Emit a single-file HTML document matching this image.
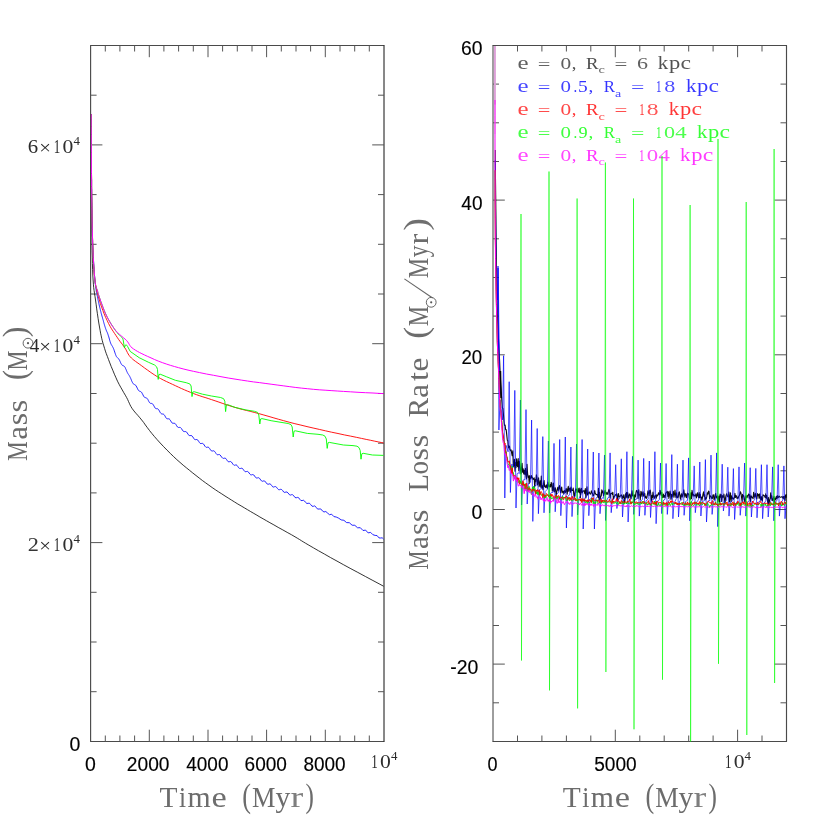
<!DOCTYPE html>
<html><head><meta charset="utf-8"><title>Mass and mass loss rate</title>
<style>html,body{margin:0;padding:0;background:#fff;}body{width:830px;height:830px;overflow:hidden;font-family:"Liberation Sans",sans-serif;}svg{display:block;}</style></head>
<body>
<svg width="830" height="830" viewBox="0 0 830 830" style="will-change:transform">
<rect width="830" height="830" fill="#fff"/>
<clipPath id="cl"><rect x="90.6" y="45.5" width="294.4" height="696"/></clipPath>
<clipPath id="cr"><rect x="493" y="45.5" width="294.5" height="696"/></clipPath>
<g id="axes"><line x1="90.1" y1="45.5" x2="384.5" y2="45.5" stroke="#4a4a4a" stroke-width="1.15" stroke-opacity="1.0"/><line x1="90.1" y1="741.5" x2="384.5" y2="741.5" stroke="#4a4a4a" stroke-width="1.15" stroke-opacity="1.0"/><line x1="90.6" y1="45.5" x2="90.6" y2="741.5" stroke="#4a4a4a" stroke-width="1.15" stroke-opacity="1.0"/><line x1="384" y1="45.5" x2="384" y2="741.5" stroke="#111" stroke-width="1.0" stroke-opacity="1.0"/><line x1="105.3" y1="45.5" x2="105.3" y2="51.5" stroke="#555" stroke-width="1.0" stroke-opacity="1.0"/><line x1="105.3" y1="741.5" x2="105.3" y2="735.5" stroke="#555" stroke-width="1.0" stroke-opacity="1.0"/><line x1="119.9" y1="45.5" x2="119.9" y2="51.5" stroke="#555" stroke-width="1.0" stroke-opacity="1.0"/><line x1="119.9" y1="741.5" x2="119.9" y2="735.5" stroke="#555" stroke-width="1.0" stroke-opacity="1.0"/><line x1="134.6" y1="45.5" x2="134.6" y2="51.5" stroke="#555" stroke-width="1.0" stroke-opacity="1.0"/><line x1="134.6" y1="741.5" x2="134.6" y2="735.5" stroke="#555" stroke-width="1.0" stroke-opacity="1.0"/><line x1="149.3" y1="45.5" x2="149.3" y2="57.2" stroke="#555" stroke-width="1.0" stroke-opacity="1.0"/><line x1="149.3" y1="741.5" x2="149.3" y2="729.7" stroke="#555" stroke-width="1.0" stroke-opacity="1.0"/><line x1="163.9" y1="45.5" x2="163.9" y2="51.5" stroke="#555" stroke-width="1.0" stroke-opacity="1.0"/><line x1="163.9" y1="741.5" x2="163.9" y2="735.5" stroke="#555" stroke-width="1.0" stroke-opacity="1.0"/><line x1="178.6" y1="45.5" x2="178.6" y2="51.5" stroke="#555" stroke-width="1.0" stroke-opacity="1.0"/><line x1="178.6" y1="741.5" x2="178.6" y2="735.5" stroke="#555" stroke-width="1.0" stroke-opacity="1.0"/><line x1="193.3" y1="45.5" x2="193.3" y2="51.5" stroke="#555" stroke-width="1.0" stroke-opacity="1.0"/><line x1="193.3" y1="741.5" x2="193.3" y2="735.5" stroke="#555" stroke-width="1.0" stroke-opacity="1.0"/><line x1="208" y1="45.5" x2="208" y2="57.2" stroke="#555" stroke-width="1.0" stroke-opacity="1.0"/><line x1="208" y1="741.5" x2="208" y2="729.7" stroke="#555" stroke-width="1.0" stroke-opacity="1.0"/><line x1="222.6" y1="45.5" x2="222.6" y2="51.5" stroke="#555" stroke-width="1.0" stroke-opacity="1.0"/><line x1="222.6" y1="741.5" x2="222.6" y2="735.5" stroke="#555" stroke-width="1.0" stroke-opacity="1.0"/><line x1="237.3" y1="45.5" x2="237.3" y2="51.5" stroke="#555" stroke-width="1.0" stroke-opacity="1.0"/><line x1="237.3" y1="741.5" x2="237.3" y2="735.5" stroke="#555" stroke-width="1.0" stroke-opacity="1.0"/><line x1="252" y1="45.5" x2="252" y2="51.5" stroke="#555" stroke-width="1.0" stroke-opacity="1.0"/><line x1="252" y1="741.5" x2="252" y2="735.5" stroke="#555" stroke-width="1.0" stroke-opacity="1.0"/><line x1="266.6" y1="45.5" x2="266.6" y2="57.2" stroke="#555" stroke-width="1.0" stroke-opacity="1.0"/><line x1="266.6" y1="741.5" x2="266.6" y2="729.7" stroke="#555" stroke-width="1.0" stroke-opacity="1.0"/><line x1="281.3" y1="45.5" x2="281.3" y2="51.5" stroke="#555" stroke-width="1.0" stroke-opacity="1.0"/><line x1="281.3" y1="741.5" x2="281.3" y2="735.5" stroke="#555" stroke-width="1.0" stroke-opacity="1.0"/><line x1="296" y1="45.5" x2="296" y2="51.5" stroke="#555" stroke-width="1.0" stroke-opacity="1.0"/><line x1="296" y1="741.5" x2="296" y2="735.5" stroke="#555" stroke-width="1.0" stroke-opacity="1.0"/><line x1="310.6" y1="45.5" x2="310.6" y2="51.5" stroke="#555" stroke-width="1.0" stroke-opacity="1.0"/><line x1="310.6" y1="741.5" x2="310.6" y2="735.5" stroke="#555" stroke-width="1.0" stroke-opacity="1.0"/><line x1="325.3" y1="45.5" x2="325.3" y2="57.2" stroke="#555" stroke-width="1.0" stroke-opacity="1.0"/><line x1="325.3" y1="741.5" x2="325.3" y2="729.7" stroke="#555" stroke-width="1.0" stroke-opacity="1.0"/><line x1="340" y1="45.5" x2="340" y2="51.5" stroke="#555" stroke-width="1.0" stroke-opacity="1.0"/><line x1="340" y1="741.5" x2="340" y2="735.5" stroke="#555" stroke-width="1.0" stroke-opacity="1.0"/><line x1="354.7" y1="45.5" x2="354.7" y2="51.5" stroke="#555" stroke-width="1.0" stroke-opacity="1.0"/><line x1="354.7" y1="741.5" x2="354.7" y2="735.5" stroke="#555" stroke-width="1.0" stroke-opacity="1.0"/><line x1="369.3" y1="45.5" x2="369.3" y2="51.5" stroke="#555" stroke-width="1.0" stroke-opacity="1.0"/><line x1="369.3" y1="741.5" x2="369.3" y2="735.5" stroke="#555" stroke-width="1.0" stroke-opacity="1.0"/><line x1="90.6" y1="691.7" x2="96.6" y2="691.7" stroke="#555" stroke-width="1.0" stroke-opacity="1.0"/><line x1="384" y1="691.7" x2="378" y2="691.7" stroke="#555" stroke-width="1.0" stroke-opacity="1.0"/><line x1="90.6" y1="642" x2="96.6" y2="642" stroke="#555" stroke-width="1.0" stroke-opacity="1.0"/><line x1="384" y1="642" x2="378" y2="642" stroke="#555" stroke-width="1.0" stroke-opacity="1.0"/><line x1="90.6" y1="592.3" x2="96.6" y2="592.3" stroke="#555" stroke-width="1.0" stroke-opacity="1.0"/><line x1="384" y1="592.3" x2="378" y2="592.3" stroke="#555" stroke-width="1.0" stroke-opacity="1.0"/><line x1="90.6" y1="542.6" x2="102.4" y2="542.6" stroke="#555" stroke-width="1.0" stroke-opacity="1.0"/><line x1="384" y1="542.6" x2="372.2" y2="542.6" stroke="#555" stroke-width="1.0" stroke-opacity="1.0"/><line x1="90.6" y1="492.9" x2="96.6" y2="492.9" stroke="#555" stroke-width="1.0" stroke-opacity="1.0"/><line x1="384" y1="492.9" x2="378" y2="492.9" stroke="#555" stroke-width="1.0" stroke-opacity="1.0"/><line x1="90.6" y1="443.2" x2="96.6" y2="443.2" stroke="#555" stroke-width="1.0" stroke-opacity="1.0"/><line x1="384" y1="443.2" x2="378" y2="443.2" stroke="#555" stroke-width="1.0" stroke-opacity="1.0"/><line x1="90.6" y1="393.5" x2="96.6" y2="393.5" stroke="#555" stroke-width="1.0" stroke-opacity="1.0"/><line x1="384" y1="393.5" x2="378" y2="393.5" stroke="#555" stroke-width="1.0" stroke-opacity="1.0"/><line x1="90.6" y1="343.7" x2="102.4" y2="343.7" stroke="#555" stroke-width="1.0" stroke-opacity="1.0"/><line x1="384" y1="343.7" x2="372.2" y2="343.7" stroke="#555" stroke-width="1.0" stroke-opacity="1.0"/><line x1="90.6" y1="294" x2="96.6" y2="294" stroke="#555" stroke-width="1.0" stroke-opacity="1.0"/><line x1="384" y1="294" x2="378" y2="294" stroke="#555" stroke-width="1.0" stroke-opacity="1.0"/><line x1="90.6" y1="244.3" x2="96.6" y2="244.3" stroke="#555" stroke-width="1.0" stroke-opacity="1.0"/><line x1="384" y1="244.3" x2="378" y2="244.3" stroke="#555" stroke-width="1.0" stroke-opacity="1.0"/><line x1="90.6" y1="194.6" x2="96.6" y2="194.6" stroke="#555" stroke-width="1.0" stroke-opacity="1.0"/><line x1="384" y1="194.6" x2="378" y2="194.6" stroke="#555" stroke-width="1.0" stroke-opacity="1.0"/><line x1="90.6" y1="144.9" x2="102.4" y2="144.9" stroke="#555" stroke-width="1.0" stroke-opacity="1.0"/><line x1="384" y1="144.9" x2="372.2" y2="144.9" stroke="#555" stroke-width="1.0" stroke-opacity="1.0"/><line x1="90.6" y1="95.2" x2="96.6" y2="95.2" stroke="#555" stroke-width="1.0" stroke-opacity="1.0"/><line x1="384" y1="95.2" x2="378" y2="95.2" stroke="#555" stroke-width="1.0" stroke-opacity="1.0"/><line x1="492.5" y1="45.5" x2="787" y2="45.5" stroke="#4a4a4a" stroke-width="1.15" stroke-opacity="1.0"/><line x1="492.5" y1="741.5" x2="787" y2="741.5" stroke="#4a4a4a" stroke-width="1.15" stroke-opacity="1.0"/><line x1="493" y1="45.5" x2="493" y2="741.5" stroke="#3c3c3c" stroke-width="1.0" stroke-opacity="1.0"/><line x1="786.5" y1="45.5" x2="786.5" y2="741.5" stroke="#4a4a4a" stroke-width="1.15" stroke-opacity="1.0"/><line x1="517.5" y1="45.5" x2="517.5" y2="51.5" stroke="#555" stroke-width="1.0" stroke-opacity="1.0"/><line x1="517.5" y1="741.5" x2="517.5" y2="735.5" stroke="#555" stroke-width="1.0" stroke-opacity="1.0"/><line x1="541.9" y1="45.5" x2="541.9" y2="51.5" stroke="#555" stroke-width="1.0" stroke-opacity="1.0"/><line x1="541.9" y1="741.5" x2="541.9" y2="735.5" stroke="#555" stroke-width="1.0" stroke-opacity="1.0"/><line x1="566.4" y1="45.5" x2="566.4" y2="51.5" stroke="#555" stroke-width="1.0" stroke-opacity="1.0"/><line x1="566.4" y1="741.5" x2="566.4" y2="735.5" stroke="#555" stroke-width="1.0" stroke-opacity="1.0"/><line x1="590.8" y1="45.5" x2="590.8" y2="51.5" stroke="#555" stroke-width="1.0" stroke-opacity="1.0"/><line x1="590.8" y1="741.5" x2="590.8" y2="735.5" stroke="#555" stroke-width="1.0" stroke-opacity="1.0"/><line x1="615.3" y1="45.5" x2="615.3" y2="57.2" stroke="#555" stroke-width="1.0" stroke-opacity="1.0"/><line x1="615.3" y1="741.5" x2="615.3" y2="729.7" stroke="#555" stroke-width="1.0" stroke-opacity="1.0"/><line x1="639.8" y1="45.5" x2="639.8" y2="51.5" stroke="#555" stroke-width="1.0" stroke-opacity="1.0"/><line x1="639.8" y1="741.5" x2="639.8" y2="735.5" stroke="#555" stroke-width="1.0" stroke-opacity="1.0"/><line x1="664.2" y1="45.5" x2="664.2" y2="51.5" stroke="#555" stroke-width="1.0" stroke-opacity="1.0"/><line x1="664.2" y1="741.5" x2="664.2" y2="735.5" stroke="#555" stroke-width="1.0" stroke-opacity="1.0"/><line x1="688.7" y1="45.5" x2="688.7" y2="51.5" stroke="#555" stroke-width="1.0" stroke-opacity="1.0"/><line x1="688.7" y1="741.5" x2="688.7" y2="735.5" stroke="#555" stroke-width="1.0" stroke-opacity="1.0"/><line x1="713.1" y1="45.5" x2="713.1" y2="51.5" stroke="#555" stroke-width="1.0" stroke-opacity="1.0"/><line x1="713.1" y1="741.5" x2="713.1" y2="735.5" stroke="#555" stroke-width="1.0" stroke-opacity="1.0"/><line x1="737.6" y1="45.5" x2="737.6" y2="57.2" stroke="#555" stroke-width="1.0" stroke-opacity="1.0"/><line x1="737.6" y1="741.5" x2="737.6" y2="729.7" stroke="#555" stroke-width="1.0" stroke-opacity="1.0"/><line x1="762" y1="45.5" x2="762" y2="51.5" stroke="#555" stroke-width="1.0" stroke-opacity="1.0"/><line x1="762" y1="741.5" x2="762" y2="735.5" stroke="#555" stroke-width="1.0" stroke-opacity="1.0"/><line x1="493" y1="702.8" x2="499" y2="702.8" stroke="#555" stroke-width="1.0" stroke-opacity="1.0"/><line x1="786.5" y1="702.8" x2="780.5" y2="702.8" stroke="#555" stroke-width="1.0" stroke-opacity="1.0"/><line x1="493" y1="664.1" x2="504.8" y2="664.1" stroke="#555" stroke-width="1.0" stroke-opacity="1.0"/><line x1="786.5" y1="664.1" x2="774.7" y2="664.1" stroke="#555" stroke-width="1.0" stroke-opacity="1.0"/><line x1="493" y1="625.5" x2="499" y2="625.5" stroke="#555" stroke-width="1.0" stroke-opacity="1.0"/><line x1="786.5" y1="625.5" x2="780.5" y2="625.5" stroke="#555" stroke-width="1.0" stroke-opacity="1.0"/><line x1="493" y1="586.8" x2="499" y2="586.8" stroke="#555" stroke-width="1.0" stroke-opacity="1.0"/><line x1="786.5" y1="586.8" x2="780.5" y2="586.8" stroke="#555" stroke-width="1.0" stroke-opacity="1.0"/><line x1="493" y1="548.1" x2="499" y2="548.1" stroke="#555" stroke-width="1.0" stroke-opacity="1.0"/><line x1="786.5" y1="548.1" x2="780.5" y2="548.1" stroke="#555" stroke-width="1.0" stroke-opacity="1.0"/><line x1="493" y1="509.5" x2="504.8" y2="509.5" stroke="#555" stroke-width="1.0" stroke-opacity="1.0"/><line x1="786.5" y1="509.5" x2="774.7" y2="509.5" stroke="#555" stroke-width="1.0" stroke-opacity="1.0"/><line x1="493" y1="470.8" x2="499" y2="470.8" stroke="#555" stroke-width="1.0" stroke-opacity="1.0"/><line x1="786.5" y1="470.8" x2="780.5" y2="470.8" stroke="#555" stroke-width="1.0" stroke-opacity="1.0"/><line x1="493" y1="432.1" x2="499" y2="432.1" stroke="#555" stroke-width="1.0" stroke-opacity="1.0"/><line x1="786.5" y1="432.1" x2="780.5" y2="432.1" stroke="#555" stroke-width="1.0" stroke-opacity="1.0"/><line x1="493" y1="393.5" x2="499" y2="393.5" stroke="#555" stroke-width="1.0" stroke-opacity="1.0"/><line x1="786.5" y1="393.5" x2="780.5" y2="393.5" stroke="#555" stroke-width="1.0" stroke-opacity="1.0"/><line x1="493" y1="354.8" x2="504.8" y2="354.8" stroke="#555" stroke-width="1.0" stroke-opacity="1.0"/><line x1="786.5" y1="354.8" x2="774.7" y2="354.8" stroke="#555" stroke-width="1.0" stroke-opacity="1.0"/><line x1="493" y1="316.1" x2="499" y2="316.1" stroke="#555" stroke-width="1.0" stroke-opacity="1.0"/><line x1="786.5" y1="316.1" x2="780.5" y2="316.1" stroke="#555" stroke-width="1.0" stroke-opacity="1.0"/><line x1="493" y1="277.5" x2="499" y2="277.5" stroke="#555" stroke-width="1.0" stroke-opacity="1.0"/><line x1="786.5" y1="277.5" x2="780.5" y2="277.5" stroke="#555" stroke-width="1.0" stroke-opacity="1.0"/><line x1="493" y1="238.8" x2="499" y2="238.8" stroke="#555" stroke-width="1.0" stroke-opacity="1.0"/><line x1="786.5" y1="238.8" x2="780.5" y2="238.8" stroke="#555" stroke-width="1.0" stroke-opacity="1.0"/><line x1="493" y1="200.1" x2="504.8" y2="200.1" stroke="#555" stroke-width="1.0" stroke-opacity="1.0"/><line x1="786.5" y1="200.1" x2="774.7" y2="200.1" stroke="#555" stroke-width="1.0" stroke-opacity="1.0"/><line x1="493" y1="161.5" x2="499" y2="161.5" stroke="#555" stroke-width="1.0" stroke-opacity="1.0"/><line x1="786.5" y1="161.5" x2="780.5" y2="161.5" stroke="#555" stroke-width="1.0" stroke-opacity="1.0"/><line x1="493" y1="122.8" x2="499" y2="122.8" stroke="#555" stroke-width="1.0" stroke-opacity="1.0"/><line x1="786.5" y1="122.8" x2="780.5" y2="122.8" stroke="#555" stroke-width="1.0" stroke-opacity="1.0"/><line x1="493" y1="84.1" x2="499" y2="84.1" stroke="#555" stroke-width="1.0" stroke-opacity="1.0"/><line x1="786.5" y1="84.1" x2="780.5" y2="84.1" stroke="#555" stroke-width="1.0" stroke-opacity="1.0"/></g>
<g id="legend" opacity="0.8"><text transform="matrix(1.2842 0 0 1 517.4 68.5)" font-size="19.4" font-family="'Liberation Serif',serif" fill="#222222" fill-opacity="0.90">e</text><text transform="matrix(1.3003 0 0 1 537.8 69.7)" font-size="17.2" font-family="'Liberation Serif',serif" fill="#222222" fill-opacity="0.88">=</text><text transform="matrix(1.2601 0 0 1 560.5 68.5)" font-size="17" font-family="'Liberation Serif',serif" fill="#222222" fill-opacity="0.91">0</text><text transform="matrix(1.0853 0 0 1 571.8 68.5)" font-size="17.2" font-family="'Liberation Serif',serif" fill="#222222">,</text><text transform="matrix(1.1159 0 0 1 586 68.5)" font-size="16.8" font-family="'Liberation Serif',serif" fill="#222222">R</text><text transform="matrix(1.3253 0 0 1 614.5 69.7)" font-size="17.2" font-family="'Liberation Serif',serif" fill="#222222" fill-opacity="0.87">=</text><text transform="matrix(1.2891 0 0 1 637 68.5)" font-size="17.1" font-family="'Liberation Serif',serif" fill="#222222" fill-opacity="0.89">6</text><text transform="matrix(1.1677 0 0 1 657.8 68.5)" font-size="17.8" font-family="'Liberation Serif',serif" fill="#222222" fill-opacity="0.98">k</text><text transform="matrix(1.1606 0 0 1 668.9 68.5)" font-size="19.4" font-family="'Liberation Serif',serif" fill="#222222" fill-opacity="0.99">p</text><text transform="matrix(1.2258 0 0 1 680.4 68.5)" font-size="19.4" font-family="'Liberation Serif',serif" fill="#222222" fill-opacity="0.94">c</text><text transform="matrix(1.3015 0 0 1 598.4 73.4)" font-size="11.1" font-family="'Liberation Serif',serif" fill="#222222" fill-opacity="0.88">c</text><text transform="matrix(1.2842 0 0 1 517.4 91.9)" font-size="19.4" font-family="'Liberation Serif',serif" fill="#0000ff" fill-opacity="0.90">e</text><text transform="matrix(1.3003 0 0 1 537.8 93.1)" font-size="17.2" font-family="'Liberation Serif',serif" fill="#0000ff" fill-opacity="0.88">=</text><text transform="matrix(1.2324 0 0 1 560.5 91.9)" font-size="17" font-family="'Liberation Serif',serif" fill="#0000ff" fill-opacity="0.93">0</text><text transform="matrix(0.8721 0 0 1 573.6 91.9)" font-size="17.2" font-family="'Liberation Serif',serif" fill="#0000ff">.</text><text transform="matrix(1.1233 0 0 1 578 91.9)" font-size="17.3" font-family="'Liberation Serif',serif" fill="#0000ff">5</text><text transform="matrix(1.1240 0 0 1 588.5 91.9)" font-size="17.2" font-family="'Liberation Serif',serif" fill="#0000ff">,</text><text transform="matrix(1.0034 0 0 1 603.8 91.9)" font-size="16.8" font-family="'Liberation Serif',serif" fill="#0000ff">R</text><text transform="matrix(1.3753 0 0 1 631 93.1)" font-size="17.2" font-family="'Liberation Serif',serif" fill="#0000ff" fill-opacity="0.84">=</text><text transform="matrix(0.6462 0 0 1 656 91.9)" font-size="17.1" font-family="'Liberation Serif',serif" fill="#0000ff">1</text><text transform="matrix(1.3016 0 0 1 664.3 91.9)" font-size="17" font-family="'Liberation Serif',serif" fill="#0000ff" fill-opacity="0.88">8</text><text transform="matrix(1.1677 0 0 1 685.9 91.9)" font-size="17.8" font-family="'Liberation Serif',serif" fill="#0000ff" fill-opacity="0.98">k</text><text transform="matrix(1.1606 0 0 1 697 91.9)" font-size="19.4" font-family="'Liberation Serif',serif" fill="#0000ff" fill-opacity="0.99">p</text><text transform="matrix(1.2258 0 0 1 708.5 91.9)" font-size="19.4" font-family="'Liberation Serif',serif" fill="#0000ff" fill-opacity="0.94">c</text><text transform="matrix(1.2585 0 0 1 615 96.8)" font-size="11.1" font-family="'Liberation Serif',serif" fill="#0000ff" fill-opacity="0.91">a</text><text transform="matrix(1.2842 0 0 1 517.4 114.9)" font-size="19.4" font-family="'Liberation Serif',serif" fill="#ff0000" fill-opacity="0.90">e</text><text transform="matrix(1.3003 0 0 1 537.8 116.1)" font-size="17.2" font-family="'Liberation Serif',serif" fill="#ff0000" fill-opacity="0.88">=</text><text transform="matrix(1.2601 0 0 1 560.5 114.9)" font-size="17" font-family="'Liberation Serif',serif" fill="#ff0000" fill-opacity="0.91">0</text><text transform="matrix(1.0853 0 0 1 571.8 114.9)" font-size="17.2" font-family="'Liberation Serif',serif" fill="#ff0000">,</text><text transform="matrix(1.1159 0 0 1 586 114.9)" font-size="16.8" font-family="'Liberation Serif',serif" fill="#ff0000">R</text><text transform="matrix(1.3253 0 0 1 614.5 116.1)" font-size="17.2" font-family="'Liberation Serif',serif" fill="#ff0000" fill-opacity="0.87">=</text><text transform="matrix(0.6296 0 0 1 639.2 114.9)" font-size="17.1" font-family="'Liberation Serif',serif" fill="#ff0000">1</text><text transform="matrix(1.3847 0 0 1 646.7 114.9)" font-size="17" font-family="'Liberation Serif',serif" fill="#ff0000" fill-opacity="0.83">8</text><text transform="matrix(1.1677 0 0 1 668.8 114.9)" font-size="17.8" font-family="'Liberation Serif',serif" fill="#ff0000" fill-opacity="0.98">k</text><text transform="matrix(1.1606 0 0 1 679.9 114.9)" font-size="19.4" font-family="'Liberation Serif',serif" fill="#ff0000" fill-opacity="0.99">p</text><text transform="matrix(1.2258 0 0 1 691.4 114.9)" font-size="19.4" font-family="'Liberation Serif',serif" fill="#ff0000" fill-opacity="0.94">c</text><text transform="matrix(1.3015 0 0 1 598.4 119.8)" font-size="11.1" font-family="'Liberation Serif',serif" fill="#ff0000" fill-opacity="0.88">c</text><text transform="matrix(1.2842 0 0 1 517.4 137.6)" font-size="19.4" font-family="'Liberation Serif',serif" fill="#00ff00" fill-opacity="0.90">e</text><text transform="matrix(1.3003 0 0 1 537.8 138.8)" font-size="17.2" font-family="'Liberation Serif',serif" fill="#00ff00" fill-opacity="0.88">=</text><text transform="matrix(1.2324 0 0 1 560.5 137.6)" font-size="17" font-family="'Liberation Serif',serif" fill="#00ff00" fill-opacity="0.93">0</text><text transform="matrix(0.8721 0 0 1 573.6 137.6)" font-size="17.2" font-family="'Liberation Serif',serif" fill="#00ff00">.</text><text transform="matrix(1.0697 0 0 1 578.5 137.6)" font-size="17.1" font-family="'Liberation Serif',serif" fill="#00ff00">9</text><text transform="matrix(1.1240 0 0 1 588.5 137.6)" font-size="17.2" font-family="'Liberation Serif',serif" fill="#00ff00">,</text><text transform="matrix(1.0034 0 0 1 603.8 137.6)" font-size="16.8" font-family="'Liberation Serif',serif" fill="#00ff00">R</text><text transform="matrix(1.3753 0 0 1 631 138.8)" font-size="17.2" font-family="'Liberation Serif',serif" fill="#00ff00" fill-opacity="0.84">=</text><text transform="matrix(0.6462 0 0 1 656 137.6)" font-size="17.1" font-family="'Liberation Serif',serif" fill="#00ff00">1</text><text transform="matrix(1.3016 0 0 1 664 137.6)" font-size="17" font-family="'Liberation Serif',serif" fill="#00ff00" fill-opacity="0.88">0</text><text transform="matrix(1.3264 0 0 1 675.3 137.6)" font-size="17.2" font-family="'Liberation Serif',serif" fill="#00ff00" fill-opacity="0.87">4</text><text transform="matrix(1.1677 0 0 1 697 137.6)" font-size="17.8" font-family="'Liberation Serif',serif" fill="#00ff00" fill-opacity="0.98">k</text><text transform="matrix(1.1606 0 0 1 708.1 137.6)" font-size="19.4" font-family="'Liberation Serif',serif" fill="#00ff00" fill-opacity="0.99">p</text><text transform="matrix(1.2258 0 0 1 719.6 137.6)" font-size="19.4" font-family="'Liberation Serif',serif" fill="#00ff00" fill-opacity="0.94">c</text><text transform="matrix(1.2585 0 0 1 615 142.5)" font-size="11.1" font-family="'Liberation Serif',serif" fill="#00ff00" fill-opacity="0.91">a</text><text transform="matrix(1.2842 0 0 1 517.4 160.5)" font-size="19.4" font-family="'Liberation Serif',serif" fill="#ff00ff" fill-opacity="0.90">e</text><text transform="matrix(1.3003 0 0 1 537.8 161.7)" font-size="17.2" font-family="'Liberation Serif',serif" fill="#ff00ff" fill-opacity="0.88">=</text><text transform="matrix(1.2601 0 0 1 560.5 160.5)" font-size="17" font-family="'Liberation Serif',serif" fill="#ff00ff" fill-opacity="0.91">0</text><text transform="matrix(1.0853 0 0 1 571.8 160.5)" font-size="17.2" font-family="'Liberation Serif',serif" fill="#ff00ff">,</text><text transform="matrix(1.1159 0 0 1 586 160.5)" font-size="16.8" font-family="'Liberation Serif',serif" fill="#ff00ff">R</text><text transform="matrix(1.3253 0 0 1 614.5 161.7)" font-size="17.2" font-family="'Liberation Serif',serif" fill="#ff00ff" fill-opacity="0.87">=</text><text transform="matrix(0.6462 0 0 1 639.1 160.5)" font-size="17.1" font-family="'Liberation Serif',serif" fill="#ff00ff">1</text><text transform="matrix(1.3432 0 0 1 646.7 160.5)" font-size="17" font-family="'Liberation Serif',serif" fill="#ff00ff" fill-opacity="0.86">0</text><text transform="matrix(1.3264 0 0 1 658.4 160.5)" font-size="17.2" font-family="'Liberation Serif',serif" fill="#ff00ff" fill-opacity="0.87">4</text><text transform="matrix(1.1677 0 0 1 680.1 160.5)" font-size="17.8" font-family="'Liberation Serif',serif" fill="#ff00ff" fill-opacity="0.98">k</text><text transform="matrix(1.1606 0 0 1 691.2 160.5)" font-size="19.4" font-family="'Liberation Serif',serif" fill="#ff00ff" fill-opacity="0.99">p</text><text transform="matrix(1.2258 0 0 1 702.7 160.5)" font-size="19.4" font-family="'Liberation Serif',serif" fill="#ff00ff" fill-opacity="0.94">c</text><text transform="matrix(1.3015 0 0 1 598.4 165.4)" font-size="11.1" font-family="'Liberation Serif',serif" fill="#ff00ff" fill-opacity="0.88">c</text></g>
<g id="left" clip-path="url(#cl)"><path d="M91 114.2 L91 119.2 L91 126.3 L91 134.6 L91 143.5 L91.1 152.2 L91.1 160 L91.1 167 L91.2 173.6 L91.2 180.1 L91.3 186.6 L91.3 193.2 L91.4 200 L91.5 207.2 L91.6 214.7 L91.7 222.2 L91.8 229.8 L91.9 237.1 L92 244 L92.1 250.6 L92.3 257.2 L92.4 263.5 L92.6 269.5 L92.8 275 L93.1 280 L93.4 284.2 L93.7 287.6 L94.1 290.6 L94.5 293.4 L95 296.4 L95.5 300 L96.1 304.2 L96.7 308.9 L97.4 313.7 L98.1 318.5 L98.8 323 L99.5 327 L100.1 330.3 L100.6 333.2 L101.2 335.8 L101.7 338.3 L102.3 340.7 L103 343.3 L103.8 345.9 L104.6 348.5 L105.4 351.1 L106.3 353.7 L107.4 356.5 L108.5 359.5 L109.8 362.9 L111.2 366.5 L112.8 370.3 L114.4 374.2 L116 377.8 L117.5 381.2 L119.1 384.3 L120.7 387.2 L122.3 390 L123.8 392.7 L125.3 395.2 L126.6 397.5 L127.7 399.6 L128.5 401.5 L129.3 403.2 L130 404.8 L130.9 406.5 L132 408.3 L133.3 410.1 L134.8 412 L136.4 413.8 L138.1 415.7 L139.9 417.8 L141.7 420 L143.6 422.4 L145.4 425 L147.4 427.7 L149.5 430.5 L151.8 433.4 L154.3 436.4 L157.1 439.6 L160.2 443 L163.5 446.5 L166.9 450 L170.3 453.4 L173.6 456.6 L176.8 459.6 L180 462.4 L183.2 465.2 L186.4 467.8 L189.6 470.4 L192.8 473 L196 475.5 L199.2 478 L202.4 480.5 L205.7 482.9 L208.9 485.2 L212.1 487.5 L215.3 489.7 L218.5 491.8 L221.8 493.9 L225 496 L228.2 498 L231.4 500 L234.6 502 L237.8 504 L241.1 505.9 L244.3 507.8 L247.5 509.7 L250.7 511.6 L253.8 513.4 L256.9 515.2 L259.9 517 L263.1 518.8 L266.4 520.7 L269.9 522.7 L273.9 524.9 L278.2 527.4 L282.8 529.9 L287.2 532.4 L291.4 534.7 L295 536.8 L297.7 538.4 L299.7 539.6 L301.4 540.7 L303.2 541.8 L305.5 543.2 L308.9 545.2 L313.4 547.8 L318.6 550.8 L324.5 554.1 L330.6 557.6 L337 561.1 L343.3 564.6 L350.1 568.3 L357.8 572.4 L365.6 576.6 L372.9 580.5 L379.1 583.8 L383.5 586.2" fill="none" stroke="#000" stroke-width="1.0" stroke-opacity="0.8" stroke-linejoin="round" /><path d="M91.2 114.2 L91.2 115.2 L91.2 116.4 L91.2 117.8 L91.2 119.2 L91.2 120.9 L91.2 122.6 L91.2 124.4 L91.2 126.3 L91.3 128.3 L91.3 130.3 L91.3 132.4 L91.3 134.6 L91.3 136.8 L91.3 139 L91.3 141.2 L91.3 143.5 L91.3 145.7 L91.3 147.9 L91.3 150.1 L91.4 152.2 L91.4 154.2 L91.4 156.2 L91.4 158.2 L91.4 160 L91.4 161.8 L91.4 163.5 L91.4 165.3 L91.4 167 L91.5 168.6 L91.5 170.3 L91.5 172 L91.5 173.6 L91.5 175.2 L91.5 176.9 L91.5 178.5 L91.6 180.1 L91.6 181.7 L91.6 183.3 L91.6 185 L91.6 186.6 L91.6 188.2 L91.7 189.9 L91.7 191.5 L91.7 193.2 L91.7 194.8 L91.7 196.5 L91.8 198.3 L91.8 200 L91.8 201.8 L91.9 203.6 L91.9 205.4 L91.9 207.2 L91.9 209 L92 210.9 L92 212.8 L92 214.7 L92 216.6 L92.1 218.5 L92.1 220.4 L92.1 222.2 L92.2 224.1 L92.2 226 L92.2 227.9 L92.3 229.8 L92.3 231.6 L92.4 233.5 L92.4 235.3 L92.5 237.1 L92.5 238.9 L92.6 240.6 L92.6 242.3 L92.7 244 L92.8 245.7 L92.8 247.3 L92.9 249 L93 250.7 L93.1 252.3 L93.1 254 L93.2 255.6 L93.3 257.3 L93.4 258.9 L93.5 260.5 L93.6 262.1 L93.7 263.6 L93.8 265.2 L93.9 266.7 L94 268.2 L94.1 269.6 L94.2 271.1 L94.3 272.5 L94.4 273.8 L94.5 275.1 L94.6 276.4 L94.7 277.7 L94.8 278.9 L94.9 280 L95 281.1 L95.1 282.1 L95.2 283.1 L95.3 284 L95.4 284.9 L95.5 285.7 L95.6 286.5 L95.7 287.2 L95.8 287.9 L95.9 288.6 L96 289.2 L96.1 289.9 L96.2 290.5 L96.3 291.1 L96.4 291.8 L96.6 292.4 L96.7 293 L96.8 293.7 L96.9 294.3 L97.1 295 L97.2 295.7 L97.4 296.4 L97.5 297.2 L97.7 298 L97.9 298.8 L98 299.7 L98.2 300.5 L98.4 301.4 L98.6 302.3 L98.8 303.2 L99 304.1 L99.2 305 L99.4 305.9 L99.6 306.8 L99.8 307.7 L100.1 308.7 L100.3 309.6 L100.5 310.6 L100.8 311.5 L101 312.4 L101.2 313.3 L101.5 314.2 L101.7 315.1 L102 316 L102.2 316.9 L102.5 317.8 L102.7 318.7 L103 319.6 L103.3 320.6 L103.5 321.6 L103.8 322.6 L104.1 323.7 L104.4 324.7 L104.7 325.7 L105 326.7 L105.3 327.6 L105.6 328.5 L105.9 329.3 L106.2 330.1 L106.5 330.9 L106.8 331.6 L107.2 332.3 L107.5 333.1 L107.8 333.9 L108.1 334.8 L108.4 335.8 L108.8 336.9 L109.1 338 L109.4 339.1 L109.7 340.2 L110 341.3 L110.3 342.2 L110.6 343 L110.9 343.8 L111.2 344.4 L111.5 344.9 L111.8 345.4 L112.1 345.9 L112.4 346.3 L112.6 346.8 L112.9 347.3 L113.2 347.9 L113.5 348.6 L113.8 349.3 L114.1 350.2 L114.4 351 L114.7 352 L115 352.9 L115.3 353.8 L115.6 354.6 L115.9 355.4 L116.2 356.1 L116.5 356.7 L116.8 357.1 L117.2 357.5 L117.5 357.8 L117.8 358.1 L118.2 358.4 L118.6 358.7 L118.9 359.2 L119.3 359.8 L119.7 360.6 L120.1 361.5 L120.5 362.4 L120.9 363.3 L121.3 364.1 L121.8 364.7 L122.2 365.2 L122.6 365.5 L123 365.6 L123.4 365.8 L123.8 365.9 L124.2 366.2 L124.5 366.6 L124.9 367.1 L125.3 367.8 L125.6 368.6 L126 369.4 L126.3 370.2 L126.6 370.9 L126.9 371.6 L127.2 372.2 L127.4 372.7 L127.6 373.1 L127.8 373.4 L128 373.8 L128.2 374.1 L128.4 374.3 L128.6 374.6 L128.7 374.9 L128.9 375.1 L129.1 375.4 L129.3 375.6 L129.4 375.9 L129.6 376.2 L129.8 376.6 L130 376.9 L130.2 377.4 L130.5 377.9 L130.7 378.4 L131 379.1 L131.3 379.9 L131.6 380.7 L132 381.6 L132.4 382.4 L132.8 383.2 L133.2 383.7 L133.7 384.1 L134.2 384.4 L134.6 384.6 L135.1 384.8 L135.7 385.3 L136.2 386 L136.7 387 L137.3 388.2 L137.8 389.3 L138.4 390.3 L139 390.9 L139.6 391.2 L140.1 391.4 L140.7 391.6 L141.3 392 L141.8 392.7 L142.4 393.8 L143 394.9 L143.5 396 L144.1 396.8 L144.6 397.4 L145.1 397.6 L145.7 397.7 L146.2 397.8 L146.7 398.1 L147.2 398.6 L147.8 399.4 L148.3 400.4 L148.8 401.4 L149.3 402.3 L149.8 402.9 L150.4 403.3 L150.9 403.4 L151.4 403.4 L152 403.5 L152.5 403.8 L153 404.4 L153.5 405.2 L154.1 406.2 L154.6 407.2 L155.1 408 L155.7 408.5 L156.2 408.7 L156.8 408.7 L157.3 408.7 L157.8 408.9 L158.4 409.4 L158.9 410.1 L159.4 411 L159.9 411.9 L160.4 412.8 L160.9 413.4 L161.4 413.8 L161.9 413.9 L162.4 414 L162.9 414 L163.4 414.1 L163.9 414.5 L164.5 415.2 L165 416.1 L165.6 417.1 L166.1 418 L166.7 418.6 L167.3 418.8 L168 418.8 L168.6 418.8 L169.3 419 L170 419.7 L170.7 420.9 L171.5 422.2 L172.2 423.1 L173.1 423.3 L173.9 423.2 L174.8 423.3 L175.7 424.2 L176.6 425.7 L177.5 427 L178.5 427.5 L179.4 427.4 L180.4 427.5 L181.4 428.5 L182.4 430.1 L183.3 431.3 L184.3 431.6 L185.3 431.5 L186.3 431.8 L187.3 433 L188.2 434.6 L189.2 435.5 L190.1 435.6 L191 435.5 L191.9 435.8 L192.8 436.9 L193.7 438.3 L194.5 439.4 L195.3 439.7 L196.2 439.5 L197 439.5 L197.8 440.1 L198.6 441.2 L199.4 442.5 L200.2 443.4 L201 443.6 L201.8 443.4 L202.6 443.4 L203.4 443.9 L204.2 445 L205 446.3 L205.8 447.1 L206.6 447.4 L207.3 447.2 L208.1 447.1 L208.9 447.6 L209.7 448.6 L210.5 449.9 L211.3 450.8 L212.1 451.1 L212.9 450.9 L213.7 450.8 L214.5 451.3 L215.3 452.3 L216.1 453.6 L216.9 454.5 L217.7 454.8 L218.5 454.6 L219.3 454.5 L220.1 455 L220.9 456 L221.8 457.3 L222.6 458.1 L223.4 458.4 L224.2 458.2 L225 458.1 L225.8 458.5 L226.6 459.6 L227.4 460.8 L228.2 461.7 L229 461.9 L229.8 461.6 L230.6 461.5 L231.4 462 L232.2 463.1 L233 464.3 L233.8 465.1 L234.6 465.3 L235.4 465 L236.2 464.9 L237 465.4 L237.8 466.5 L238.6 467.7 L239.4 468.4 L240.3 468.5 L241.1 468.3 L241.9 468.2 L242.7 468.7 L243.5 469.8 L244.3 470.9 L245.1 471.7 L245.9 471.7 L246.7 471.5 L247.5 471.4 L248.3 471.9 L249.1 473 L249.9 474.1 L250.7 474.8 L251.5 474.9 L252.3 474.6 L253.1 474.6 L253.8 475 L254.6 476 L255.4 477.2 L256.1 477.9 L256.9 478.1 L257.6 477.9 L258.4 477.7 L259.2 478 L259.9 478.8 L260.7 480 L261.5 480.9 L262.3 481.3 L263.1 481.1 L263.9 480.8 L264.7 481 L265.5 481.9 L266.4 483.1 L267.2 484 L268.1 484.3 L269 484 L269.9 483.8 L270.8 484.4 L271.8 485.7 L272.7 486.8 L273.7 487.1 L274.6 486.7 L275.6 486.6 L276.6 487.3 L277.6 488.7 L278.6 489.7 L279.6 489.7 L280.6 489.3 L281.6 489.5 L282.7 490.6 L283.7 492 L284.8 492.5 L285.9 492 L287 492 L288.1 493 L289.2 494.5 L290.3 495.1 L291.5 494.7 L292.6 494.7 L293.8 495.9 L295 497.5 L296.2 497.8 L297.4 497.4 L298.6 497.7 L299.7 499.2 L300.9 500.5 L302.1 500.6 L303.3 500.2 L304.4 500.9 L305.7 502.5 L306.9 503.5 L308.1 503.3 L309.4 503.2 L310.7 504.6 L312 506.2 L313.3 506.3 L314.7 505.9 L316.2 507.3 L317.6 509.1 L319.2 509 L320.7 508.9 L322.4 510.9 L324 512 L325.8 511.5 L327.6 513.1 L329.5 514.7 L331.6 514.2 L333.9 516.6 L336.2 517 L338.7 518.2 L341.2 519.9 L343.9 520.3 L346.6 522.6 L349.3 522.7 L352.1 525.2 L354.8 525.3 L357.6 527.8 L360.3 527.7 L363 530.5 L365.6 530.1 L368.1 532.9 L370.6 532.4 L372.9 534.7 L375.1 535.4 L377.1 535.6 L379 537.9 L380.7 538 L382.2 537.8 L383.5 539.1" fill="none" stroke="#0000ff" stroke-width="1.0" stroke-opacity="0.85" stroke-linejoin="round" /><path d="M91.2 114.2 L91.2 119.2 L91.2 126.3 L91.3 134.6 L91.3 143.5 L91.4 152.2 L91.4 160 L91.4 167 L91.5 173.6 L91.6 180.1 L91.6 186.6 L91.7 193.2 L91.8 200 L91.9 207.2 L92 214.7 L92.1 222.2 L92.3 229.8 L92.5 237.1 L92.7 244 L93 250.6 L93.2 257.1 L93.5 263.3 L93.9 269.2 L94.3 274.8 L94.9 280 L95.6 284.7 L96.4 288.9 L97.3 292.8 L98.3 296.4 L99.3 299.9 L100.4 303.5 L101.6 307.1 L102.9 310.6 L104.2 314 L105.6 317.3 L107.1 320.4 L108.5 323.4 L110 326.2 L111.5 328.8 L113.1 331.2 L114.6 333.5 L116.1 335.7 L117.5 337.8 L118.8 339.7 L120.1 341.5 L121.4 343.1 L122.6 344.7 L123.7 346.2 L124.8 347.8 L125.8 349.4 L126.6 350.9 L127.4 352.5 L128.2 354 L129.1 355.4 L130.2 356.8 L131.4 358 L132.6 359.1 L133.9 360.2 L135.4 361.3 L137.1 362.5 L139.2 364 L141.7 365.8 L144.6 368 L147.7 370.2 L150.9 372.5 L154.2 374.7 L157.3 376.7 L160.3 378.4 L163.3 380 L166.4 381.5 L169.4 382.9 L172.4 384.3 L175.4 385.7 L178.4 387.1 L181.4 388.5 L184.4 389.8 L187.4 391.1 L190.4 392.3 L193.4 393.5 L196.3 394.6 L199.2 395.6 L202.1 396.6 L205.1 397.5 L208.2 398.5 L211.5 399.6 L215.1 400.8 L218.9 402.1 L222.9 403.5 L227 404.9 L231 406.2 L235 407.4 L238.8 408.5 L242.6 409.5 L246.3 410.4 L250.1 411.3 L254.2 412.4 L258.5 413.5 L263.1 414.8 L268 416.2 L273.1 417.7 L278.3 419.2 L283.7 420.7 L289.2 422.2 L294.9 423.7 L300.9 425.1 L307 426.6 L313.1 428 L319.3 429.4 L325.4 430.8 L331.6 432.2 L338 433.5 L344.3 434.9 L350.5 436.1 L356.3 437.3 L361.5 438.4 L366.2 439.4 L370.7 440.3 L374.8 441.2 L378.3 441.9 L381.3 442.5 L383.5 443" fill="none" stroke="#ff0000" stroke-width="1.0" stroke-opacity="0.9" stroke-linejoin="round" /><path d="M91.2 114.2 L91.2 119.2 L91.2 126.3 L91.3 134.6 L91.3 143.5 L91.4 152.2 L91.4 160 L91.4 167 L91.5 173.6 L91.6 180.1 L91.6 186.6 L91.7 193.2 L91.8 200 L91.9 207.2 L92 214.7 L92.1 222.2 L92.3 229.8 L92.5 237.1 L92.7 244 L93 250.8 L93.3 257.5 L93.7 264.1 L94.1 270.1 L94.5 275.5 L94.9 280 L95.3 283.3 L95.7 285.6 L96.2 287.2 L96.6 288.5 L97.1 289.6 L97.5 291 L97.9 292.4 L98.2 293.6 L98.5 294.6 L98.9 295.8 L99.3 297.2 L100 299 L100.8 301.4 L101.8 304.1 L102.9 307.1 L104.1 310.2 L105.4 313.3 L106.7 316.1 L108.1 318.8 L109.6 321.4 L111.2 324.1 L112.8 326.5 L114.3 328.8 L115.7 330.8 L117.1 332.5 L118.4 334.1 L119.7 335.4 L120.9 336.6 L121.9 337.5 L122.6 338.2 L123.2 340 L124.4 347.8 L125.2 345.5 L126.2 344.7 L127.6 346.5 L130.2 351.4 L139.2 357.7 L148.3 362.2 L154.6 365 L156.6 366.8 L157.5 369.5 L158.2 379.4 L158.9 374.6 L160.2 374.2 L166.3 376.7 L175.4 380.3 L186.2 382.7 L189.8 383.9 L191.1 386 L192 396.6 L192.8 392 L194.2 391.7 L202.5 394.2 L211.5 396 L220.6 397.5 L223.6 398.7 L224.8 401.2 L225.6 411.6 L226.4 405 L227.8 404.7 L235 407.4 L245.8 409.9 L254.5 411.3 L257.6 412.4 L258.8 415 L259.8 424 L260.6 419 L262 418.6 L271.1 420.7 L282 422.5 L288.2 423.5 L291 424.6 L292.2 427 L293.2 437 L294 431.2 L295.4 430.8 L307.3 433.4 L318 434.3 L322.8 435 L325 436.2 L326.3 439 L327.2 448.4 L328 442.8 L329.4 442.4 L343.4 445 L353 445.6 L357 446.2 L359 447.6 L360.2 450.5 L361 459.2 L361.8 453.8 L363.2 453.3 L372.4 455 L383.5 455.4" fill="none" stroke="#00ff00" stroke-width="1.0" stroke-opacity="0.9" stroke-linejoin="round" /><path d="M91.2 114.2 L91.2 119.2 L91.2 126.3 L91.3 134.6 L91.3 143.5 L91.4 152.2 L91.4 160 L91.4 167 L91.5 173.6 L91.6 180.1 L91.6 186.6 L91.7 193.2 L91.8 200 L91.9 207.2 L92 214.7 L92.1 222.2 L92.3 229.8 L92.5 237.1 L92.7 244 L93 250.8 L93.3 257.5 L93.7 264.1 L94.1 270.1 L94.5 275.5 L94.9 280 L95.3 283.3 L95.7 285.6 L96.2 287.2 L96.6 288.5 L97.1 289.6 L97.5 291 L97.9 292.4 L98.2 293.6 L98.5 294.6 L98.9 295.8 L99.3 297.2 L100 299 L100.8 301.4 L101.8 304.1 L102.9 307.1 L104.1 310.3 L105.4 313.3 L106.7 316.1 L108 318.7 L109.5 321.3 L110.9 323.8 L112.5 326.2 L114.1 328.5 L115.7 330.6 L117.5 332.5 L119.4 334.3 L121.4 336 L123.3 337.6 L125.1 339.1 L126.6 340.5 L127.7 341.9 L128.5 343.1 L129.2 344.3 L129.9 345.5 L130.7 346.6 L132 347.8 L133.6 349 L135.3 350.1 L137.3 351.3 L139.5 352.5 L141.9 353.7 L144.6 355 L147.6 356.4 L151 357.9 L154.5 359.5 L158.3 361.1 L162.3 362.6 L166.3 364 L170.3 365.3 L174.4 366.5 L178.6 367.7 L183.1 368.9 L188 370.1 L193.4 371.3 L199.6 372.6 L206.4 374 L213.6 375.3 L221 376.7 L228.2 378 L235 379.1 L241.3 380.1 L247.4 381 L253.4 381.9 L259.3 382.6 L265.1 383.4 L271.1 384.2 L277.1 385 L283.2 385.8 L289.2 386.6 L295.2 387.4 L301.3 388.1 L307.3 388.7 L313.3 389.3 L319.2 389.8 L325.1 390.2 L331.1 390.6 L337.2 391 L343.4 391.4 L350.3 391.8 L358 392.3 L365.7 392.7 L373 393 L379.1 393.4 L383.5 393.6" fill="none" stroke="#ff00ff" stroke-width="1.0" stroke-opacity="1.0" stroke-linejoin="round" /></g>
<g id="right" clip-path="url(#cr)"><path d="M495.3 150 L495.3 152.2 L495.3 154.4 L495.3 157.5 L495.3 162.2 L495.4 169.4 L495.5 180 L495.7 195.6 L495.9 215.9 L496.1 238.8 L496.4 261.9 L496.7 283 L497 300 L497.3 313 L497.7 323.7 L498.1 332.5 L498.5 339.6 L498.8 345.4 L499 350 L499.6 360.6 L500.1 372.3 L500.7 384.3 L501.2 391.4 L501.8 400.4 L502.3 407.8 L502.9 408.4 L503.4 413.7 L504 421.3 L504.5 425.5 L505.1 425.1 L505.6 429.6 L506.2 429.6 L506.7 434.6 L507.3 440.2 L507.8 440.7 L508.4 447.9 L508.9 446 L509.5 446.3 L510 449.8 L510.6 450.7 L511.1 449.9 L511.7 453.3 L512.2 455.8 L512.8 450.8 L513.3 466.5 L513.9 465.5 L514.4 459.4 L515 471.1 L515.5 462.5 L516 467.7 L516.6 458.7 L517.1 465.2 L517.7 466.7 L518.2 458.6 L518.8 470.7 L519.3 461.4 L519.9 464.7 L520.4 469 L521 474 L521.5 468 L522.1 463.3 L522.6 472.3 L523.2 468.9 L523.7 474 L524.3 470.4 L524.8 474.4 L525.4 468.4 L525.9 475.7 L526.5 478.9 L527 464.3 L527.6 473.6 L528.1 477.4 L528.7 476.1 L529.2 483.4 L529.8 475.5 L530.3 478.1 L530.9 479 L531.4 475.5 L532 477.3 L532.5 477.7 L533.1 479.5 L533.6 478.5 L534.2 477.8 L534.7 487.1 L535.3 479.6 L535.8 481.6 L536.4 474.8 L536.9 477.4 L537.5 484.9 L538 481.8 L538.6 477.9 L539.1 486.6 L539.7 484.3 L540.2 480.7 L540.8 487.3 L541.3 476.1 L541.9 487.8 L542.4 485.8 L543 489.8 L543.5 483.1 L544.1 480.5 L544.6 486.6 L545.2 486 L545.7 487.6 L546.3 484.9 L546.8 487.1 L547.4 488.2 L547.9 482 L548.5 485.3 L549 486.7 L549.6 486.6 L550.1 484.6 L550.7 487 L551.2 482.4 L551.8 483.6 L552.3 490.9 L552.9 490.1 L553.4 483 L554 491.5 L554.5 491.8 L555.1 487.6 L555.6 489 L556.2 495.8 L556.7 491.9 L557.3 489.5 L557.8 487.4 L558.4 490.4 L558.9 487.5 L559.5 485.6 L560 489.4 L560.6 492.7 L561.1 488.6 L561.7 487.1 L562.2 492.9 L562.8 491.2 L563.3 491.3 L563.9 494 L564.4 490.5 L565 491.7 L565.5 492.4 L566.1 488.6 L566.6 489.4 L567.2 494.2 L567.7 488.9 L568.3 486.3 L568.8 491.4 L569.4 488.5 L569.9 488.2 L570.5 492.3 L571 487 L571.6 490.7 L572.1 490.4 L572.7 490.5 L573.2 488 L573.8 495 L574.3 496.6 L574.9 492.7 L575.4 490.4 L576 488.8 L576.5 489.4 L577.1 492.6 L577.6 491.6 L578.2 488.4 L578.7 491.9 L579.3 492.7 L579.8 488.1 L580.4 497.8 L580.9 490.2 L581.5 488.3 L582 492.9 L582.6 491.9 L583.1 490.7 L583.7 491.1 L584.2 490.8 L584.8 493.6 L585.3 488.6 L585.9 497.9 L586.4 491.6 L587 486.7 L587.5 495 L588.1 493.9 L588.6 492.9 L589.2 491.9 L589.7 493.3 L590.3 494.1 L590.8 493.9 L591.4 490.9 L591.9 492.6 L592.5 493.3 L593 495.9 L593.6 495.6 L594.1 493.9 L594.7 490.5 L595.2 492.9 L595.8 494.2 L596.3 494.8 L596.9 494.5 L597.4 494.6 L598 497.4 L598.5 488.2 L599.1 500.2 L599.6 492.4 L600.2 499.1 L600.7 496.6 L601.3 495.7 L601.8 489.9 L602.4 492.6 L602.9 491.1 L603.5 495.8 L604 494.3 L604.6 492.4 L605.1 490.4 L605.7 493.3 L606.2 494.4 L606.8 492.4 L607.3 493.5 L607.9 494.4 L608.4 491.1 L609 489.3 L609.5 490.9 L610.1 498.2 L610.6 493.8 L611.2 493.6 L611.7 493.2 L612.3 494.3 L612.8 492.2 L613.4 498.7 L613.9 496.7 L614.5 496.7 L615 495.4 L615.6 494.6 L616.1 495.3 L616.7 493.8 L617.2 497.2 L617.8 500.1 L618.3 493.5 L618.9 496 L619.4 496.9 L620 496.1 L620.5 496 L621.1 494.9 L621.6 495 L622.2 498.8 L622.7 496.2 L623.3 497.4 L623.8 494.7 L624.4 503.1 L624.9 500.6 L625.5 493.9 L626 497.1 L626.6 492.2 L627.1 497.9 L627.7 492.6 L628.2 496.7 L628.8 498.1 L629.3 494.6 L629.9 493.9 L630.4 496 L631 498.9 L631.5 494.7 L632.1 490.7 L632.6 495.9 L633.2 495.8 L633.7 495 L634.3 502.2 L634.8 494.8 L635.4 497 L635.9 492.8 L636.5 490.5 L637 490.6 L637.6 492.8 L638.1 498.5 L638.7 489.7 L639.2 494.9 L639.8 494.8 L640.3 499.7 L640.9 491.2 L641.4 492.5 L642 496.5 L642.5 493.3 L643.1 491.7 L643.6 496.1 L644.2 495.8 L644.7 493.2 L645.3 497.9 L645.8 496.6 L646.4 498.4 L646.9 497.2 L647.5 494 L648 490.9 L648.6 492.8 L649.1 495.7 L649.7 490.7 L650.2 490.1 L650.8 494.1 L651.3 501.1 L651.9 495.5 L652.4 498 L653 492 L653.5 495.8 L654.1 498.4 L654.6 497.4 L655.2 495.2 L655.7 495.4 L656.3 498.2 L656.8 494.7 L657.4 496 L657.9 495.3 L658.5 492.7 L659 494.3 L659.6 494.6 L660.1 490.3 L660.7 492.9 L661.2 495.4 L661.8 492.4 L662.3 497.5 L662.9 497.7 L663.4 494.1 L664 497.1 L664.5 495.6 L665.1 497.7 L665.6 493.8 L666.2 492.4 L666.7 492.3 L667.3 491.4 L667.8 496.4 L668.4 491.7 L668.9 498.4 L669.5 494.9 L670 491.1 L670.6 494.2 L671.1 499.4 L671.7 494.4 L672.2 496.6 L672.8 494.4 L673.3 491.3 L673.9 497.3 L674.4 494.7 L675 490 L675.5 495 L676.1 497.7 L676.6 492.9 L677.2 496.8 L677.7 497.7 L678.3 496.9 L678.8 492.5 L679.4 491.8 L679.9 495.9 L680.5 499.3 L681 495.4 L681.6 493.8 L682.1 497.1 L682.7 495.6 L683.2 492.8 L683.8 489.9 L684.3 493.7 L684.9 497.1 L685.4 493.9 L686 493.8 L686.5 497.6 L687.1 496.1 L687.6 493.1 L688.2 493.8 L688.7 494.1 L689.3 498 L689.8 498.8 L690.4 499.3 L690.9 492.7 L691.5 498.8 L692 490.3 L692.6 493.3 L693.1 496.2 L693.7 494.4 L694.2 495.4 L694.8 496 L695.3 495.9 L695.9 493.8 L696.4 497.9 L697 495.6 L697.5 492.7 L698.1 495.8 L698.6 497.7 L699.2 492.6 L699.7 497.8 L700.3 494.3 L700.8 497.5 L701.4 497.1 L701.9 500.3 L702.5 497.3 L703 494.2 L703.6 491.8 L704.1 496.4 L704.7 494.7 L705.2 499.9 L705.8 497.8 L706.3 498.7 L706.9 496.2 L707.4 492.7 L708 494.1 L708.5 491.1 L709.1 491.7 L709.6 498.6 L710.2 495.9 L710.7 496 L711.3 496.8 L711.8 498.5 L712.4 498.4 L712.9 495 L713.5 494.8 L714 499.8 L714.6 498.9 L715.1 494.8 L715.7 493.5 L716.2 497.6 L716.8 497.9 L717.3 495.8 L717.9 501.9 L718.4 497.3 L719 496.1 L719.5 502.2 L720.1 494.1 L720.6 497.1 L721.2 494.6 L721.7 501.5 L722.3 495.5 L722.8 497.1 L723.4 497.2 L723.9 494 L724.5 499.2 L725 503.5 L725.6 497.7 L726.1 495.1 L726.7 493.7 L727.2 495.4 L727.8 496.8 L728.3 496.7 L728.9 492.1 L729.4 501.8 L730 497.5 L730.5 492.8 L731.1 502 L731.6 495.8 L732.2 498.5 L732.7 497.7 L733.3 499.2 L733.8 498.4 L734.4 497.6 L734.9 493.4 L735.5 497.5 L736 495.5 L736.6 496.4 L737.1 498.5 L737.7 497.2 L738.2 498.2 L738.8 496.1 L739.3 495.6 L739.9 493.8 L740.4 491.7 L741 493.2 L741.5 496.9 L742.1 501.5 L742.6 494.4 L743.2 496.8 L743.7 495.6 L744.3 498.2 L744.8 502.3 L745.4 500.9 L745.9 496.1 L746.5 495.9 L747 497.8 L747.6 495.5 L748.1 495.3 L748.7 494.1 L749.2 498.1 L749.8 494.5 L750.3 501.6 L750.9 496.1 L751.4 496 L752 497.8 L752.5 497.3 L753.1 498.8 L753.6 492.3 L754.2 496.7 L754.7 497.2 L755.3 493.4 L755.8 495.4 L756.4 498.4 L756.9 498.8 L757.5 493.5 L758 495.6 L758.6 494.4 L759.1 498.4 L759.7 493.8 L760.2 497.2 L760.8 500.1 L761.3 496.6 L761.9 499.6 L762.4 501 L763 494.8 L763.5 495.2 L764.1 495.5 L764.6 496.2 L765.2 497.6 L765.7 493.8 L766.3 498.1 L766.8 495.6 L767.4 500.2 L767.9 503.7 L768.5 497.5 L769 503.5 L769.6 500.7 L770.1 499 L770.7 492.7 L771.2 498.2 L771.8 495.8 L772.3 500.3 L772.9 500.6 L773.4 498.2 L774 496.5 L774.5 504.4 L775.1 498.3 L775.6 499.5 L776.2 496.5 L776.7 498.8 L777.3 495.6 L777.8 497.9 L778.4 497.3 L778.9 496.1 L779.5 496.4 L780 497.3 L780.6 497.2 L781.1 497 L781.7 496.7 L782.2 496.7 L782.8 498.1 L783.3 496.5 L783.9 498.9 L784.4 496.3 L785 500.6 L785.5 495.6 L786.1 494.5 L786.2 497.8" fill="none" stroke="#000" stroke-width="1.1" stroke-opacity="0.95" stroke-linejoin="round" /><path d="M495.2 160 L495.4 200 L496.2 262 L497.4 300 L498 266 L498.9 430 L500 400 L502.5 419.9 L503.6 355.7 L504.8 498 L505.9 445.2 L507 448.1 L508.1 451.8 L509.2 381.7 L510.4 492.5 L511.5 464.4 L512.6 464.7 L513.7 467.4 L514.8 390.4 L516 508 L517.1 473.7 L518.2 472.8 L519.3 473.7 L520.4 400 L521.6 505 L522.7 481.3 L523.8 479.5 L524.9 479.9 L526 409.6 L527.2 504 L528.3 483.7 L529.4 483.4 L530.5 482.1 L531.6 420 L532.8 521.4 L533.9 486.7 L535 485.5 L536.1 485.6 L537.2 428.5 L538.4 513.7 L539.5 489.6 L540.6 489 L541.7 488.7 L542.8 436.6 L544 512.8 L545.1 491.6 L546.2 490.5 L547.3 489.3 L548.4 441 L549.6 513 L550.7 493 L551.8 492.3 L552.9 492.7 L554 443.4 L555.2 511.8 L556.3 494.6 L557.4 493.8 L558.6 492.2 L559.7 439.5 L560.8 515.7 L562 496.4 L563.1 494.8 L564.2 493.8 L565.3 437 L566.4 528 L567.6 496.9 L568.7 495.3 L569.8 494.7 L570.9 447 L572 516.6 L573.2 497.1 L574.3 496.8 L575.4 496.3 L576.5 444 L577.6 515 L578.8 499 L579.9 496.5 L581 494.9 L582.1 439.5 L583.2 529 L584.4 499.2 L585.5 497.1 L586.6 496.4 L587.7 449 L588.8 515.7 L590 499.4 L591.1 498.3 L592.2 496.8 L593.3 452 L594.4 529 L595.6 499.3 L596.7 497.3 L597.8 496.2 L598.9 453 L600 513.7 L601.2 499.2 L602.3 497.8 L603.4 498.4 L604.5 455 L605.6 520.5 L606.8 500.3 L607.9 497.8 L609 497.4 L610.1 452.9 L611.2 512.7 L612.4 500.1 L613.5 499.5 L614.6 497.7 L615.7 464.7 L616.9 508.5 L618 500.5 L619.1 498.5 L620.2 497.7 L621.3 458.8 L622.5 517 L623.6 499.8 L624.7 499.7 L625.8 498.1 L626.9 451.7 L628.1 522 L629.2 501.2 L630.3 499.4 L631.4 497.5 L632.5 456.3 L633.7 514.4 L634.8 500.4 L635.9 499 L637 499 L638.1 460.1 L639.3 516.1 L640.4 500.7 L641.5 500.5 L642.6 499.2 L643.7 458.4 L644.9 515.3 L646 501.5 L647.1 499.7 L648.2 499.1 L649.3 461 L650.5 517.5 L651.6 501 L652.7 499 L653.8 499.5 L654.9 451.7 L656.1 523.7 L657.2 501.3 L658.3 500.8 L659.4 499.4 L660.5 463 L661.7 513.6 L662.8 501.7 L663.9 499.9 L665 499.4 L666.1 463.5 L667.3 514.4 L668.4 501.1 L669.5 499.8 L670.7 498.8 L671.8 454.6 L672.9 518.7 L674.1 502.4 L675.2 501.2 L676.3 498.5 L677.4 464.2 L678.5 517 L679.7 500.9 L680.8 500.1 L681.9 499.8 L683 460.1 L684.1 515.3 L685.3 501.8 L686.4 501 L687.5 500.4 L688.6 457.9 L689.7 520.8 L690.9 502.4 L692 500.9 L693.1 498.9 L694.2 465.9 L695.3 512.7 L696.5 502.3 L697.6 501 L698.7 499.1 L699.8 462 L700.9 516 L702.1 501.3 L703.2 501.2 L704.3 500.8 L705.4 459.6 L706.5 522 L707.7 502.7 L708.8 500.3 L709.9 500.6 L711 455.1 L712.1 514.4 L713.3 502.1 L714.4 500.6 L715.5 500.6 L716.6 452.9 L717.7 526.6 L718.9 503.1 L720 501.9 L721.1 500.8 L722.2 464.2 L723.4 511 L724.5 501.6 L725.6 500.6 L726.7 500.3 L727.8 467.2 L729 516.1 L730.1 502.2 L731.2 501.9 L732.3 500.7 L733.4 468.6 L734.6 519.5 L735.7 503.3 L736.8 502.2 L737.9 500.7 L739 466.9 L740.2 515.3 L741.3 503.8 L742.4 501.3 L743.5 499.7 L744.6 463 L745.8 516.1 L746.9 503 L748 502.4 L749.1 500.7 L750.2 467.7 L751.4 517 L752.5 502.7 L753.6 500.7 L754.7 499.8 L755.8 468.4 L757 517.8 L758.1 502.3 L759.2 502 L760.3 500.2 L761.4 464.7 L762.6 518.7 L763.7 503 L764.8 502.6 L765.9 500.3 L767 464.7 L768.2 517 L769.3 503.5 L770.4 501.4 L771.5 500.4 L772.6 466.9 L773.8 520.8 L774.9 503.1 L776 501.6 L777.1 500 L778.2 464.7 L779.4 516.1 L780.5 503.5 L781.6 501.9 L782.8 500 L783.9 465.9 L785 518.7 L786.2 504.2" fill="none" stroke="#0000ff" stroke-width="0.85" stroke-opacity="0.8" stroke-linejoin="round" /><path d="M498 268 L498.5 320 L499.2 365 L499.9 398" fill="none" stroke="#0000ff" stroke-width="1.5" stroke-opacity="0.8" stroke-linejoin="round" /><path d="M500.3 371 L500.6 384 L501.1 398" fill="none" stroke="#000" stroke-width="1.9" stroke-opacity="0.9" stroke-linejoin="round" /><path d="M495.1 170.8 L495.1 178.2 L495.1 188.2 L495.1 200.2 L495.2 213.4 L495.3 227.2 L495.4 240.8 L495.6 255.1 L495.8 270.8 L496.1 287.1 L496.4 303 L496.7 317.9 L497 330.8 L497.3 342 L497.7 352.3 L498.1 361.4 L498.5 369.3 L498.8 375.8 L499 380.8 L499.6 395.5 L500.2 407.2 L500.8 413.1 L501.4 417.7 L502 424.1 L502.6 432.8 L503.2 439.8 L503.8 441.2 L504.4 442.2 L505 448.7 L505.6 454 L506.2 451.7 L506.8 457.9 L507.4 457.4 L508 464.5 L508.6 464.4 L509.2 465.1 L509.8 465.4 L510.4 470.2 L511 470.2 L511.6 471.3 L512.2 465.9 L512.8 472.9 L513.4 472.6 L514 478.5 L514.6 477 L515.2 478.8 L515.8 476.5 L516.4 477.8 L517 478.9 L517.6 478.8 L518.2 482.7 L518.8 481.7 L519.4 480.4 L520 483.7 L520.6 481.1 L521.2 482.8 L521.8 484.2 L522.4 484.7 L523 484.5 L523.6 482.5 L524.2 487.9 L524.8 489.4 L525.4 483.6 L526 488.6 L526.6 491.2 L527.2 486.9 L527.8 488.5 L528.4 492.1 L529 486.3 L529.6 491 L530.2 489.4 L530.8 490.7 L531.4 494.5 L532 489.8 L532.6 487 L533.2 490.5 L533.8 486.2 L534.4 491.2 L535 488.5 L535.6 493.6 L536.2 491.3 L536.8 494 L537.4 491.6 L538 494.9 L538.6 492.4 L539.2 493 L539.8 493.1 L540.4 492.7 L541 494.9 L541.6 495.4 L542.2 494.2 L542.8 494.2 L543.4 495.3 L544 494.5 L544.6 498.4 L545.2 495.6 L545.8 498 L546.4 495.6 L547 495.5 L547.6 495.4 L548.2 494.8 L548.8 496.5 L549.4 497.4 L550 499.3 L550.6 494.5 L551.2 499.1 L551.8 498.3 L552.4 498.1 L553 497.6 L553.6 500.6 L554.2 497 L554.8 498.9 L555.4 498.8 L556 495 L556.6 498.8 L557.2 499.1 L557.8 496 L558.4 501.4 L559 496.5 L559.6 498.5 L560.2 498.7 L560.8 499 L561.4 500.1 L562 497.7 L562.6 496.2 L563.2 498.7 L563.8 497 L564.4 497.5 L565 498.1 L565.6 497.7 L566.2 500.6 L566.8 500.8 L567.4 497.1 L568 499.1 L568.6 497.5 L569.2 500.7 L569.8 500.2 L570.4 498.5 L571 500 L571.6 500.2 L572.2 501.1 L572.8 500.4 L573.4 498.9 L574 500.1 L574.6 499.9 L575.2 498 L575.8 501.1 L576.4 500.1 L577 499.9 L577.6 500.6 L578.2 500.6 L578.8 499.7 L579.4 500 L580 499.4 L580.6 501.1 L581.2 501.5 L581.8 501.3 L582.4 498.8 L583 501.3 L583.6 500.3 L584.2 501.1 L584.8 499.6 L585.4 502.6 L586 502.5 L586.6 500.8 L587.2 503.6 L587.8 501.2 L588.4 501.5 L589 502.6 L589.6 502.5 L590.2 502 L590.8 501.9 L591.4 498.1 L592 501.9 L592.6 498.3 L593.2 503.8 L593.8 501.4 L594.4 504 L595 502.2 L595.6 503.6 L596.2 501.4 L596.8 499.7 L597.4 500.1 L598 504 L598.6 503.1 L599.2 502.5 L599.8 502.2 L600.4 501.5 L601 503.5 L601.6 501 L602.2 502.5 L602.8 500.1 L603.4 501.9 L604 503.1 L604.6 500.2 L605.2 502 L605.8 502.4 L606.4 502.5 L607 502.4 L607.6 502.1 L608.2 501.7 L608.8 502.2 L609.4 502.1 L610 501.9 L610.6 501.5 L611.2 501.1 L611.8 500.8 L612.4 502.1 L613 502 L613.6 503.4 L614.2 502.5 L614.8 503.4 L615.4 501.8 L616 502.4 L616.6 503.7 L617.2 502.8 L617.8 501.9 L618.4 504.3 L619 504.3 L619.6 501.6 L620.2 503.2 L620.8 502.3 L621.4 503.4 L622 504 L622.6 501.2 L623.2 502.7 L623.8 504.5 L624.4 503.8 L625 502.3 L625.6 503.3 L626.2 502.8 L626.8 504 L627.4 501.1 L628 502.9 L628.6 503.8 L629.2 502.9 L629.8 503.6 L630.4 503.7 L631 501.5 L631.6 503.5 L632.2 501.6 L632.8 503.1 L633.4 503.6 L634 503.1 L634.6 505.1 L635.2 504.6 L635.8 503.4 L636.4 502.9 L637 504.1 L637.6 502.6 L638.2 504.6 L638.8 503.7 L639.4 504 L640 504.5 L640.6 501.9 L641.2 502.9 L641.8 504.1 L642.4 501.3 L643 502.2 L643.6 503.8 L644.2 502.4 L644.8 502.9 L645.4 502.8 L646 503.3 L646.6 502.4 L647.2 505.3 L647.8 504 L648.4 504.6 L649 502.8 L649.6 504.3 L650.2 504.6 L650.8 504.6 L651.4 505.8 L652 503.7 L652.6 502.9 L653.2 503.6 L653.8 504.4 L654.4 501 L655 505 L655.6 504 L656.2 501.3 L656.8 506.1 L657.4 505 L658 505.6 L658.6 502.8 L659.2 505.4 L659.8 505.5 L660.4 505.7 L661 503.7 L661.6 502.9 L662.2 503.8 L662.8 505 L663.4 502.9 L664 503.7 L664.6 504.4 L665.2 505.7 L665.8 504.1 L666.4 503.8 L667 504.5 L667.6 503.5 L668.2 505.1 L668.8 504.7 L669.4 503 L670 505.4 L670.6 505.5 L671.2 503.4 L671.8 502.8 L672.4 504.9 L673 503.4 L673.6 503.8 L674.2 504.3 L674.8 503.5 L675.4 502.6 L676 504.2 L676.6 504 L677.2 503.1 L677.8 504.7 L678.4 503.8 L679 504.3 L679.6 504.2 L680.2 503.8 L680.8 503.5 L681.4 503.4 L682 502.3 L682.6 505.1 L683.2 504.5 L683.8 505.4 L684.4 504 L685 505.7 L685.6 502.6 L686.2 503.7 L686.8 505.5 L687.4 505.1 L688 504 L688.6 503.8 L689.2 506.3 L689.8 503.8 L690.4 504.7 L691 502.3 L691.6 501.8 L692.2 504.2 L692.8 505.2 L693.4 505.7 L694 504.6 L694.6 504.2 L695.2 502.5 L695.8 501.9 L696.4 505.1 L697 505.4 L697.6 505 L698.2 503.8 L698.8 504.7 L699.4 506 L700 505 L700.6 501.8 L701.2 504.1 L701.8 504 L702.4 504.7 L703 503.5 L703.6 502.7 L704.2 503.6 L704.8 505.7 L705.4 504.1 L706 505.1 L706.6 505.4 L707.2 502.6 L707.8 503.7 L708.4 504.8 L709 505.6 L709.6 507.4 L710.2 505.3 L710.8 505.7 L711.4 504.5 L712 504.7 L712.6 505.1 L713.2 503.7 L713.8 504.8 L714.4 504.3 L715 505.3 L715.6 501.6 L716.2 504.4 L716.8 504.5 L717.4 505 L718 506.7 L718.6 505 L719.2 504.8 L719.8 502.3 L720.4 505.1 L721 505.3 L721.6 503.7 L722.2 503.2 L722.8 504.3 L723.4 503.7 L724 505.6 L724.6 503.5 L725.2 503.3 L725.8 503.4 L726.4 504.2 L727 504.5 L727.6 505 L728.2 505.5 L728.8 505.7 L729.4 505.1 L730 505 L730.6 506 L731.2 503.1 L731.8 505.3 L732.4 504.4 L733 505 L733.6 503.4 L734.2 502.7 L734.8 504.5 L735.4 504.7 L736 505.7 L736.6 503.1 L737.2 504.6 L737.8 502.5 L738.4 502.1 L739 505.8 L739.6 505.1 L740.2 502.7 L740.8 506.7 L741.4 503.6 L742 504.1 L742.6 504.3 L743.2 503.4 L743.8 503.8 L744.4 505.4 L745 504.6 L745.6 505.1 L746.2 503.1 L746.8 506.1 L747.4 503.7 L748 505.1 L748.6 506.1 L749.2 506.6 L749.8 505.1 L750.4 503.7 L751 507.3 L751.6 506.2 L752.2 505 L752.8 506.2 L753.4 505.8 L754 505 L754.6 503.3 L755.2 503.8 L755.8 504.2 L756.4 504.1 L757 505 L757.6 504 L758.2 504.9 L758.8 503.7 L759.4 503.5 L760 503.9 L760.6 505.3 L761.2 507.1 L761.8 503.7 L762.4 505.6 L763 504.4 L763.6 505.1 L764.2 504.8 L764.8 505.2 L765.4 503.7 L766 506.2 L766.6 506.7 L767.2 504.8 L767.8 505.9 L768.4 504 L769 504.8 L769.6 503.2 L770.2 505.9 L770.8 502.5 L771.4 504 L772 505.1 L772.6 504.6 L773.2 503.1 L773.8 505.2 L774.4 503.8 L775 505 L775.6 505.4 L776.2 502.6 L776.8 504.2 L777.4 504.1 L778 504.5 L778.6 503.1 L779.2 504.4 L779.8 502.8 L780.4 503.6 L781 504.2 L781.6 505.9 L782.2 502.4 L782.8 505.5 L783.4 504.3 L784 504.8 L784.6 505.3 L785.2 503.4 L785.8 502 L786.2 504.6" fill="none" stroke="#00e000" stroke-width="1.0" stroke-opacity="0.95" stroke-linejoin="round" /><path d="M495.1 170 L495.1 177.4 L495.1 187.4 L495.1 199.4 L495.2 212.6 L495.3 226.4 L495.4 240 L495.6 254.3 L495.8 270 L496.1 286.2 L496.4 302.2 L496.7 317.1 L497 330 L497.3 341.2 L497.7 351.5 L498.1 360.6 L498.5 368.5 L498.8 375 L499 380 L499.6 395.1 L500.2 406.7 L500.8 410.1 L501.4 418.5 L502 424.5 L502.6 432.7 L503.2 434.7 L503.8 439.3 L504.4 445.1 L505 443 L505.6 449.6 L506.2 453.8 L506.8 456.6 L507.4 460.4 L508 462.2 L508.6 462 L509.2 460.8 L509.8 464.4 L510.4 466 L511 469.1 L511.6 473.6 L512.2 467.8 L512.8 475.4 L513.4 475.1 L514 476.5 L514.6 475.4 L515.2 475.6 L515.8 477.9 L516.4 478.3 L517 481.4 L517.6 477.6 L518.2 480.3 L518.8 477.8 L519.4 484 L520 483.3 L520.6 482.4 L521.2 482.9 L521.8 485.2 L522.4 485.1 L523 480.8 L523.6 485.3 L524.2 486.1 L524.8 484 L525.4 489 L526 488.9 L526.6 483.2 L527.2 486.7 L527.8 487.7 L528.4 491 L529 489.1 L529.6 487.8 L530.2 489.7 L530.8 489.1 L531.4 490.5 L532 491.7 L532.6 489.2 L533.2 489.2 L533.8 490.5 L534.4 489.4 L535 490.8 L535.6 494.5 L536.2 490 L536.8 491.1 L537.4 489.5 L538 491.8 L538.6 491.4 L539.2 489.9 L539.8 495.3 L540.4 493.1 L541 491.4 L541.6 492.3 L542.2 493.9 L542.8 497.9 L543.4 493.7 L544 495.2 L544.6 497 L545.2 495.1 L545.8 496.2 L546.4 493.5 L547 494.4 L547.6 494.6 L548.2 495.9 L548.8 496.8 L549.4 495.3 L550 496 L550.6 494.4 L551.2 494 L551.8 496.5 L552.4 494.6 L553 495.9 L553.6 497.6 L554.2 496.7 L554.8 498.7 L555.4 496.2 L556 495.2 L556.6 497.2 L557.2 496.6 L557.8 496 L558.4 495.5 L559 495.8 L559.6 499.3 L560.2 498.2 L560.8 497.5 L561.4 497.9 L562 497 L562.6 498.3 L563.2 499.8 L563.8 499.6 L564.4 497.1 L565 498 L565.6 497.7 L566.2 495.8 L566.8 497.5 L567.4 499.9 L568 499.6 L568.6 498.1 L569.2 497.2 L569.8 499.3 L570.4 497.7 L571 500.3 L571.6 499.6 L572.2 496.2 L572.8 498.1 L573.4 499.7 L574 499.4 L574.6 497 L575.2 499 L575.8 500.7 L576.4 499.3 L577 501 L577.6 499.5 L578.2 499.9 L578.8 499.4 L579.4 500.1 L580 499.2 L580.6 500.8 L581.2 498.4 L581.8 502.7 L582.4 499.8 L583 498.7 L583.6 501.1 L584.2 498.9 L584.8 501.4 L585.4 500.1 L586 500.9 L586.6 500.6 L587.2 501.7 L587.8 499.7 L588.4 501.6 L589 500 L589.6 499.7 L590.2 501.1 L590.8 500.3 L591.4 502.7 L592 498 L592.6 498.9 L593.2 497.6 L593.8 500.9 L594.4 501 L595 500.3 L595.6 500.3 L596.2 500.2 L596.8 500.3 L597.4 501.3 L598 500.3 L598.6 500.3 L599.2 502.8 L599.8 502.1 L600.4 500 L601 499.1 L601.6 502.5 L602.2 500.1 L602.8 501.5 L603.4 500.4 L604 499.9 L604.6 501.6 L605.2 500.3 L605.8 502 L606.4 500 L607 501.5 L607.6 501.9 L608.2 501.5 L608.8 501.7 L609.4 499.2 L610 501.6 L610.6 502 L611.2 501.7 L611.8 503.8 L612.4 498.7 L613 502.6 L613.6 501 L614.2 501.6 L614.8 501.7 L615.4 501.1 L616 500.5 L616.6 498.2 L617.2 501.6 L617.8 499.7 L618.4 501.4 L619 502 L619.6 502.1 L620.2 504 L620.8 502.2 L621.4 500.5 L622 502.3 L622.6 503.1 L623.2 502.2 L623.8 501.5 L624.4 502.4 L625 501.8 L625.6 502 L626.2 501.9 L626.8 502.7 L627.4 501.4 L628 501.8 L628.6 502.1 L629.2 500.3 L629.8 498.9 L630.4 501.6 L631 504.2 L631.6 502.5 L632.2 502.5 L632.8 501.9 L633.4 501.6 L634 502.3 L634.6 502 L635.2 503.1 L635.8 503.2 L636.4 501.7 L637 502.4 L637.6 502.9 L638.2 502.9 L638.8 502.3 L639.4 502.9 L640 502.3 L640.6 502.6 L641.2 501.7 L641.8 502.6 L642.4 502.9 L643 502.8 L643.6 501.2 L644.2 501.9 L644.8 503.4 L645.4 504.1 L646 503.9 L646.6 503.5 L647.2 503.2 L647.8 502.3 L648.4 500.6 L649 503.5 L649.6 502.8 L650.2 504.9 L650.8 503.8 L651.4 503.4 L652 503.4 L652.6 500.8 L653.2 502.7 L653.8 504.1 L654.4 502.7 L655 503.7 L655.6 502 L656.2 504.9 L656.8 501.2 L657.4 502.1 L658 501.6 L658.6 502.4 L659.2 502.4 L659.8 502.8 L660.4 502.1 L661 503.2 L661.6 503.2 L662.2 504.1 L662.8 505.6 L663.4 501.8 L664 504.5 L664.6 502.9 L665.2 503 L665.8 504.2 L666.4 502.4 L667 505.9 L667.6 504.4 L668.2 501.7 L668.8 501.9 L669.4 503 L670 503 L670.6 500.9 L671.2 502.7 L671.8 500.6 L672.4 501.5 L673 502 L673.6 502.1 L674.2 502.4 L674.8 503.8 L675.4 502.2 L676 503.7 L676.6 502.6 L677.2 505 L677.8 503 L678.4 503.8 L679 504.9 L679.6 503.2 L680.2 503.8 L680.8 504.1 L681.4 504.2 L682 504.1 L682.6 503.1 L683.2 502.2 L683.8 503 L684.4 504.2 L685 504.8 L685.6 503.2 L686.2 503.7 L686.8 504.5 L687.4 501.9 L688 504.5 L688.6 503.7 L689.2 502.7 L689.8 504.9 L690.4 502.7 L691 505 L691.6 505.7 L692.2 504.1 L692.8 502.8 L693.4 502.6 L694 504.2 L694.6 501.8 L695.2 503.3 L695.8 503.9 L696.4 502.7 L697 502.6 L697.6 503.9 L698.2 503 L698.8 504.5 L699.4 501.6 L700 503.7 L700.6 504.3 L701.2 502.8 L701.8 502.9 L702.4 502.2 L703 503.6 L703.6 503.1 L704.2 503.9 L704.8 503.1 L705.4 505.5 L706 503.7 L706.6 503 L707.2 502.7 L707.8 501.4 L708.4 501.4 L709 501.7 L709.6 502.5 L710.2 502.9 L710.8 502.4 L711.4 504.4 L712 501.7 L712.6 500.6 L713.2 504.1 L713.8 504.3 L714.4 504.9 L715 502.5 L715.6 503 L716.2 504.9 L716.8 504.1 L717.4 503.8 L718 505.6 L718.6 504.1 L719.2 504.3 L719.8 504.4 L720.4 502.8 L721 505.1 L721.6 503.7 L722.2 503.6 L722.8 504.3 L723.4 504.8 L724 503.3 L724.6 503.9 L725.2 503.4 L725.8 504.4 L726.4 503.3 L727 501.9 L727.6 505.7 L728.2 503.9 L728.8 504.5 L729.4 504.3 L730 503.4 L730.6 503.7 L731.2 505 L731.8 504.7 L732.4 502.9 L733 501.8 L733.6 505.9 L734.2 503.2 L734.8 503.1 L735.4 505.2 L736 503.2 L736.6 503 L737.2 503.8 L737.8 501.2 L738.4 502 L739 502.6 L739.6 503.2 L740.2 505.7 L740.8 503.2 L741.4 504.5 L742 502.3 L742.6 503.1 L743.2 501.6 L743.8 504.1 L744.4 503.7 L745 502.3 L745.6 504.5 L746.2 502.9 L746.8 501.3 L747.4 505.6 L748 503.4 L748.6 504.2 L749.2 504.7 L749.8 502.3 L750.4 502.8 L751 505.5 L751.6 503.2 L752.2 502.6 L752.8 501 L753.4 503.2 L754 503.2 L754.6 503.6 L755.2 502.8 L755.8 504 L756.4 504.8 L757 503.4 L757.6 502.2 L758.2 504.8 L758.8 503.7 L759.4 503.3 L760 502.6 L760.6 501.4 L761.2 502.9 L761.8 503.3 L762.4 504.1 L763 503.6 L763.6 503 L764.2 503.8 L764.8 502.7 L765.4 503.4 L766 504 L766.6 503.4 L767.2 502.8 L767.8 503.9 L768.4 505.4 L769 505.1 L769.6 503.1 L770.2 502.9 L770.8 502.6 L771.4 503.5 L772 504.7 L772.6 504.1 L773.2 504.2 L773.8 503.9 L774.4 504.9 L775 502.2 L775.6 503.7 L776.2 504 L776.8 504.1 L777.4 503.5 L778 503.9 L778.6 505.9 L779.2 502.7 L779.8 503.2 L780.4 504.3 L781 501.4 L781.6 501.6 L782.2 502.6 L782.8 505 L783.4 504.3 L784 503 L784.6 501.8 L785.2 502.3 L785.8 504 L786.2 503.8" fill="none" stroke="#ff0000" stroke-width="1.0" stroke-opacity="0.95" stroke-linejoin="round" /><path d="M520.5 482.9 L521 214 L521.5 660.5 L522 484.9" fill="none" stroke="#00ff00" stroke-width="0.95" stroke-opacity="0.62" stroke-linejoin="round" /><path d="M548.6 495 L549 171.5 L549.5 690.4 L550.1 497" fill="none" stroke="#00ff00" stroke-width="0.95" stroke-opacity="0.62" stroke-linejoin="round" /><path d="M576.7 499.2 L577.1 198.5 L577.6 708.4 L578.2 501.2" fill="none" stroke="#00ff00" stroke-width="0.95" stroke-opacity="0.62" stroke-linejoin="round" /><path d="M604.9 501.1 L605.4 162.5 L605.9 672 L606.4 503.1" fill="none" stroke="#00ff00" stroke-width="0.95" stroke-opacity="0.62" stroke-linejoin="round" /><path d="M633.1 502.2 L633.5 198.5 L634 729.3 L634.6 504.2" fill="none" stroke="#00ff00" stroke-width="0.95" stroke-opacity="0.62" stroke-linejoin="round" /><path d="M661.5 502.9 L662 156 L662.5 679.7 L663 504.9" fill="none" stroke="#00ff00" stroke-width="0.95" stroke-opacity="0.62" stroke-linejoin="round" /><path d="M689.7 503.2 L690.1 205 L690.6 745 L691.2 505.2" fill="none" stroke="#00ff00" stroke-width="0.95" stroke-opacity="0.62" stroke-linejoin="round" /><path d="M717.6 503.4 L718 139 L718.5 663.8 L719.1 505.4" fill="none" stroke="#00ff00" stroke-width="0.95" stroke-opacity="0.62" stroke-linejoin="round" /><path d="M745.8 503.5 L746.2 202 L746.8 735 L747.3 505.5" fill="none" stroke="#00ff00" stroke-width="0.95" stroke-opacity="0.62" stroke-linejoin="round" /><path d="M773.7 503.6 L774.1 149 L774.6 683 L775.2 505.6" fill="none" stroke="#00ff00" stroke-width="0.95" stroke-opacity="0.62" stroke-linejoin="round" /><rect x="493.9" y="46" width="2" height="58.5" fill="#dda0d8"/><rect x="494.1" y="104" width="1.7" height="30" fill="#dda0d8" fill-opacity="0.6"/><rect x="494.3" y="134" width="1.4" height="26" fill="#dda0d8" fill-opacity="0.3"/><path d="M495 100 L495 115.8 L495 138.1 L495 164.4 L495.1 191.9 L495.2 217.9 L495.3 240 L495.5 258.3 L495.8 275 L496 290.4 L496.4 304.5 L496.7 317.7 L497 330 L497.3 341.7 L497.7 352.6 L498.1 362.5 L498.5 371.2 L498.8 378.4 L499 383.8 L499.6 399.4 L500.2 410.5 L500.8 411.7 L501.4 421.6 L502 430.8 L502.6 438.8 L503.2 442.6 L503.8 443.6 L504.4 451.2 L505 454.6 L505.6 453.7 L506.2 457.9 L506.8 461.4 L507.4 465 L508 467.9 L508.6 465.4 L509.2 470.5 L509.8 470 L510.4 470.1 L511 473.8 L511.6 473.6 L512.2 473.8 L512.8 475.6 L513.4 481.1 L514 479 L514.6 476.1 L515.2 479.6 L515.8 476.4 L516.4 481.3 L517 479.3 L517.6 482.1 L518.2 485.9 L518.8 486.1 L519.4 484.2 L520 485.5 L520.6 485.5 L521.2 485.1 L521.8 487.8 L522.4 487.5 L523 486.3 L523.6 489 L524.2 493.7 L524.8 488.6 L525.4 489.9 L526 491.1 L526.6 489.4 L527.2 491.4 L527.8 491.3 L528.4 492 L529 489.9 L529.6 492.6 L530.2 492.6 L530.8 491.6 L531.4 493.8 L532 494.1 L532.6 495.3 L533.2 493.7 L533.8 494 L534.4 496.4 L535 495.4 L535.6 493.9 L536.2 497.4 L536.8 496.7 L537.4 497 L538 499.2 L538.6 498.4 L539.2 497.1 L539.8 496.4 L540.4 496.9 L541 499.9 L541.6 498.3 L542.2 498.2 L542.8 499.3 L543.4 501 L544 498.7 L544.6 501.5 L545.2 500.3 L545.8 501.2 L546.4 498.4 L547 497.5 L547.6 500.5 L548.2 501.4 L548.8 499.9 L549.4 501.4 L550 498.4 L550.6 503.3 L551.2 501 L551.8 501.9 L552.4 500.7 L553 500 L553.6 501.4 L554.2 497.5 L554.8 498.4 L555.4 498.7 L556 498.6 L556.6 502.2 L557.2 503.4 L557.8 501.6 L558.4 497.9 L559 503 L559.6 501.3 L560.2 501 L560.8 500.9 L561.4 503.3 L562 503.6 L562.6 502.3 L563.2 501.5 L563.8 503 L564.4 504.7 L565 503.5 L565.6 502.8 L566.2 501.7 L566.8 502.5 L567.4 501.4 L568 502 L568.6 503.8 L569.2 503.4 L569.8 504.6 L570.4 502.6 L571 502.4 L571.6 503.7 L572.2 504.2 L572.8 504.5 L573.4 503.8 L574 502.8 L574.6 503.2 L575.2 503.2 L575.8 502.9 L576.4 503.1 L577 503.9 L577.6 503.2 L578.2 503.7 L578.8 504.1 L579.4 505 L580 503.2 L580.6 503.1 L581.2 504.3 L581.8 505.4 L582.4 504 L583 503.5 L583.6 505.7 L584.2 505.7 L584.8 503.6 L585.4 505.4 L586 503.2 L586.6 504.5 L587.2 504.3 L587.8 505.1 L588.4 504.1 L589 503.2 L589.6 505.7 L590.2 504.2 L590.8 505.4 L591.4 503.8 L592 505.4 L592.6 504.8 L593.2 504.4 L593.8 506.6 L594.4 503.8 L595 505.6 L595.6 505.6 L596.2 504.6 L596.8 505.3 L597.4 505.3 L598 503.4 L598.6 503.6 L599.2 505.4 L599.8 506.5 L600.4 504.9 L601 505.7 L601.6 505.9 L602.2 504.6 L602.8 505.1 L603.4 505.3 L604 506.1 L604.6 505.3 L605.2 505.4 L605.8 506.2 L606.4 505.4 L607 505.3 L607.6 505.6 L608.2 505.2 L608.8 506.4 L609.4 506 L610 506.5 L610.6 505 L611.2 505.9 L611.8 505.7 L612.4 506.8 L613 505.6 L613.6 505.8 L614.2 505.7 L614.8 505.6 L615.4 505.5 L616 506.1 L616.6 505.6 L617.2 506.4 L617.8 506 L618.4 505.6 L619 505.3 L619.6 505.7 L620.2 505.9 L620.8 505.8 L621.4 505.8 L622 505.7 L622.6 505.8 L623.2 505.3 L623.8 506.1 L624.4 505.9 L625 506.8 L625.6 505.9 L626.2 506.9 L626.8 505.4 L627.4 506.4 L628 505.5 L628.6 506.1 L629.2 506.6 L629.8 506.4 L630.4 506.5 L631 506.2 L631.6 505.7 L632.2 506.3 L632.8 506 L633.4 506.6 L634 506.7 L634.6 505.5 L635.2 505.8 L635.8 506.7 L636.4 505.5 L637 505.5 L637.6 506 L638.2 506 L638.8 506.7 L639.4 506.8 L640 506.1 L640.6 506.8 L641.2 506.8 L641.8 506.4 L642.4 506.2 L643 506.3 L643.6 506.6 L644.2 506.2 L644.8 505.4 L645.4 506.1 L646 506.8 L646.6 506.4 L647.2 505.9 L647.8 506.9 L648.4 506.2 L649 506.1 L649.6 506.3 L650.2 506.9 L650.8 506.2 L651.4 506.2 L652 506 L652.6 506.3 L653.2 506.5 L653.8 506.6 L654.4 505.9 L655 506.3 L655.6 506.5 L656.2 506.2 L656.8 506.7 L657.4 506.4 L658 506.2 L658.6 506.1 L659.2 506 L659.8 506.5 L660.4 506.4 L661 506.3 L661.6 506.7 L662.2 506.5 L662.8 506.3 L663.4 506.7 L664 506.7 L664.6 506.4 L665.2 506.5 L665.8 506.8 L666.4 506.3 L667 506.7 L667.6 506.3 L668.2 506.5 L668.8 506.5 L669.4 506.1 L670 506.5 L670.6 506.2 L671.2 506.7 L671.8 507 L672.4 507 L673 506.1 L673.6 506.5 L674.2 506.4 L674.8 506.4 L675.4 507 L676 506.8 L676.6 506.6 L677.2 506.2 L677.8 506.9 L678.4 506.8 L679 506.6 L679.6 506.6 L680.2 506.6 L680.8 506.4 L681.4 507.1 L682 506.1 L682.6 506.7 L683.2 506.6 L683.8 507.1 L684.4 506.9 L685 507 L685.6 506.7 L686.2 506.6 L686.8 506.6 L687.4 506.9 L688 506.8 L688.6 506.6 L689.2 505.9 L689.8 507.2 L690.4 507.3 L691 507.1 L691.6 507.1 L692.2 506.9 L692.8 506.3 L693.4 506.9 L694 506.7 L694.6 507.1 L695.2 506.9 L695.8 506.6 L696.4 506.9 L697 506.7 L697.6 506.9 L698.2 507 L698.8 506.5 L699.4 506.7 L700 506.7 L700.6 506.8 L701.2 506.8 L701.8 506.8 L702.4 507.1 L703 507.1 L703.6 506.5 L704.2 506.7 L704.8 507.3 L705.4 506.9 L706 507.2 L706.6 507.1 L707.2 506.3 L707.8 507.2 L708.4 507.1 L709 507 L709.6 507.5 L710.2 507 L710.8 506.7 L711.4 506.7 L712 507.2 L712.6 507.4 L713.2 506.8 L713.8 507 L714.4 506.6 L715 506.9 L715.6 506.9 L716.2 506.8 L716.8 507 L717.4 506.3 L718 507.3 L718.6 507.1 L719.2 506.8 L719.8 506.4 L720.4 507.1 L721 506.7 L721.6 506.7 L722.2 506.6 L722.8 506.8 L723.4 507 L724 506.6 L724.6 506.8 L725.2 506.7 L725.8 507.3 L726.4 507.2 L727 506.7 L727.6 506.7 L728.2 507.2 L728.8 506.9 L729.4 506.7 L730 507.2 L730.6 506.6 L731.2 506.9 L731.8 506.6 L732.4 507.4 L733 507.2 L733.6 507.3 L734.2 506.7 L734.8 507.1 L735.4 506.9 L736 506.5 L736.6 507.1 L737.2 507.1 L737.8 507 L738.4 507.1 L739 507.2 L739.6 507 L740.2 507.5 L740.8 506.5 L741.4 507.4 L742 506.8 L742.6 506.6 L743.2 507.5 L743.8 506.7 L744.4 507.4 L745 507.1 L745.6 506.8 L746.2 506.7 L746.8 507.2 L747.4 507 L748 506.4 L748.6 507.1 L749.2 507.1 L749.8 507.2 L750.4 506.9 L751 507.2 L751.6 507.4 L752.2 507.2 L752.8 506.8 L753.4 506.8 L754 507.3 L754.6 506.9 L755.2 507 L755.8 507.8 L756.4 507.5 L757 507.3 L757.6 507.5 L758.2 507.5 L758.8 507.6 L759.4 507.5 L760 507 L760.6 507.8 L761.2 506.8 L761.8 506.8 L762.4 507.3 L763 507.6 L763.6 507 L764.2 506.9 L764.8 506.8 L765.4 507.1 L766 507.8 L766.6 506.3 L767.2 507.3 L767.8 506.9 L768.4 507.5 L769 507.5 L769.6 507.4 L770.2 507.2 L770.8 507.3 L771.4 507.4 L772 507.5 L772.6 507.4 L773.2 507.4 L773.8 507.8 L774.4 507.7 L775 506.8 L775.6 506.9 L776.2 507.2 L776.8 507.1 L777.4 507 L778 507.2 L778.6 507.2 L779.2 506.9 L779.8 507.1 L780.4 507.3 L781 507.5 L781.6 506.7 L782.2 507.5 L782.8 507.7 L783.4 507.3 L784 507.2 L784.6 507.5 L785.2 507.5 L785.8 507.2 L786.2 507.3" fill="none" stroke="#ff00ff" stroke-width="1.0" stroke-opacity="0.95" stroke-linejoin="round" /></g>
<g id="text" opacity="0.999"><text transform="matrix(1.0091 0 0 1 84.9 770.7)" font-size="19.3" font-family="'Liberation Sans',sans-serif" fill="#000" stroke="#000" stroke-width="0.15">0</text><text transform="matrix(0.9945 0 0 1 126.8 770.7)" font-size="19.3" font-family="'Liberation Sans',sans-serif" fill="#000" stroke="#000" stroke-width="0.15">2000</text><text transform="matrix(0.9819 0 0 1 186.3 770.7)" font-size="19.3" font-family="'Liberation Sans',sans-serif" fill="#000" stroke="#000" stroke-width="0.15">4000</text><text transform="matrix(0.9873 0 0 1 244.6 770.7)" font-size="19.3" font-family="'Liberation Sans',sans-serif" fill="#000" stroke="#000" stroke-width="0.15">6000</text><text transform="matrix(0.9838 0 0 1 303.4 770.7)" font-size="19.3" font-family="'Liberation Sans',sans-serif" fill="#000" stroke="#000" stroke-width="0.15">8000</text><text transform="matrix(1.0091 0 0 1 69.4 751.2)" font-size="19.3" font-family="'Liberation Sans',sans-serif" fill="#000" stroke="#000" stroke-width="0.15">0</text><text transform="matrix(0.9332 0 0 1 487.5 770.7)" font-size="19.3" font-family="'Liberation Sans',sans-serif" fill="#000" stroke="#000" stroke-width="0.15">0</text><text transform="matrix(0.9899 0 0 1 594.2 770.7)" font-size="19.3" font-family="'Liberation Sans',sans-serif" fill="#000" stroke="#000" stroke-width="0.15">5000</text><text transform="matrix(1.0022 0 0 1 460.9 54.8)" font-size="19.3" font-family="'Liberation Sans',sans-serif" fill="#000" stroke="#000" stroke-width="0.15">60</text><text transform="matrix(0.9858 0 0 1 461.3 209.5)" font-size="19.3" font-family="'Liberation Sans',sans-serif" fill="#000" stroke="#000" stroke-width="0.15">40</text><text transform="matrix(0.9668 0 0 1 461.4 364.1)" font-size="19.3" font-family="'Liberation Sans',sans-serif" fill="#000" stroke="#000" stroke-width="0.15">20</text><text transform="matrix(1.0091 0 0 1 471.6 518.8)" font-size="19.3" font-family="'Liberation Sans',sans-serif" fill="#000" stroke="#000" stroke-width="0.15">0</text><text transform="matrix(1.0084 0 0 1 450.3 673.5)" font-size="19.3" font-family="'Liberation Sans',sans-serif" fill="#000" stroke="#000" stroke-width="0.15">-20</text><text transform="matrix(0.7092 0 0 1 371.2 767.7)" font-size="18.4" font-family="'Liberation Serif',serif" fill="#2a2a2a">1</text><text transform="matrix(1.1765 0 0 1 380 767.7)" font-size="18.4" font-family="'Liberation Serif',serif" fill="#2a2a2a" fill-opacity="0.98">0</text><text transform="matrix(1.1220 0 0 1 390.9 760.3)" font-size="11.5" font-family="'Liberation Serif',serif" fill="#2a2a2a">4</text><text transform="matrix(0.7092 0 0 1 724.9 767.7)" font-size="18.4" font-family="'Liberation Serif',serif" fill="#2a2a2a">1</text><text transform="matrix(1.1765 0 0 1 733.7 767.7)" font-size="18.4" font-family="'Liberation Serif',serif" fill="#2a2a2a" fill-opacity="0.98">0</text><text transform="matrix(1.1220 0 0 1 744.6 760.3)" font-size="11.5" font-family="'Liberation Serif',serif" fill="#2a2a2a">4</text><text transform="matrix(1.2092 0 0 1 27.7 550.6)" font-size="18.4" font-family="'Liberation Serif',serif" fill="#2a2a2a" fill-opacity="0.95">2</text><text transform="matrix(1.1272 0 0 1 39.3 551.8)" font-size="18.4" font-family="'Liberation Serif',serif" fill="#2a2a2a">×</text><text transform="matrix(0.7092 0 0 1 53.7 550.6)" font-size="18.4" font-family="'Liberation Serif',serif" fill="#2a2a2a">1</text><text transform="matrix(1.1765 0 0 1 62.5 550.6)" font-size="18.4" font-family="'Liberation Serif',serif" fill="#2a2a2a" fill-opacity="0.98">0</text><text transform="matrix(1.1220 0 0 1 73.4 543.2)" font-size="11.5" font-family="'Liberation Serif',serif" fill="#2a2a2a">4</text><text transform="matrix(1.0402 0 0 1 29.8 351.7)" font-size="18.4" font-family="'Liberation Serif',serif" fill="#2a2a2a">4</text><text transform="matrix(1.1272 0 0 1 39.3 352.9)" font-size="18.4" font-family="'Liberation Serif',serif" fill="#2a2a2a">×</text><text transform="matrix(0.7092 0 0 1 53.7 351.7)" font-size="18.4" font-family="'Liberation Serif',serif" fill="#2a2a2a">1</text><text transform="matrix(1.1765 0 0 1 62.5 351.7)" font-size="18.4" font-family="'Liberation Serif',serif" fill="#2a2a2a" fill-opacity="0.98">0</text><text transform="matrix(1.1220 0 0 1 73.4 344.3)" font-size="11.5" font-family="'Liberation Serif',serif" fill="#2a2a2a">4</text><text transform="matrix(1.1315 0 0 1 27.8 152.8)" font-size="18.4" font-family="'Liberation Serif',serif" fill="#2a2a2a">6</text><text transform="matrix(1.1272 0 0 1 39.3 154)" font-size="18.4" font-family="'Liberation Serif',serif" fill="#2a2a2a">×</text><text transform="matrix(0.7092 0 0 1 53.7 152.8)" font-size="18.4" font-family="'Liberation Serif',serif" fill="#2a2a2a">1</text><text transform="matrix(1.1765 0 0 1 62.5 152.8)" font-size="18.4" font-family="'Liberation Serif',serif" fill="#2a2a2a" fill-opacity="0.98">0</text><text transform="matrix(1.1220 0 0 1 73.4 145.4)" font-size="11.5" font-family="'Liberation Serif',serif" fill="#2a2a2a">4</text><text transform="matrix(0.9979 0 0 1 159.6 806.8)" font-size="29.5" font-family="'Liberation Serif',serif" fill="#6c6c6c">T</text><text transform="matrix(0.8616 0 0 1 179.1 806.8)" font-size="29.5" font-family="'Liberation Serif',serif" fill="#6c6c6c">i</text><text transform="matrix(1.0090 0 0 1 187.6 806.8)" font-size="29.5" font-family="'Liberation Serif',serif" fill="#6c6c6c">m</text><text transform="matrix(1.1635 0 0 1 211.6 806.8)" font-size="29.5" font-family="'Liberation Serif',serif" fill="#6c6c6c" fill-opacity="0.99">e</text><text transform="matrix(0.8009 0 0 1 242.3 806.5)" font-size="32.8" font-family="'Liberation Serif',serif" fill="#6c6c6c">(</text><text transform="matrix(0.8944 0 0 1 252.1 806.8)" font-size="29.5" font-family="'Liberation Serif',serif" fill="#6c6c6c">M</text><text transform="matrix(1.0047 0 0 1 275.5 806.8)" font-size="29.5" font-family="'Liberation Serif',serif" fill="#6c6c6c">y</text><text transform="matrix(1.3004 0 0 1 290.4 806.8)" font-size="29.5" font-family="'Liberation Serif',serif" fill="#6c6c6c" fill-opacity="0.88">r</text><text transform="matrix(0.7695 0 0 1 305.4 806.5)" font-size="32.8" font-family="'Liberation Serif',serif" fill="#6c6c6c">)</text><text transform="matrix(0.9979 0 0 1 562.7 806.8)" font-size="29.5" font-family="'Liberation Serif',serif" fill="#6c6c6c">T</text><text transform="matrix(0.8616 0 0 1 582.2 806.8)" font-size="29.5" font-family="'Liberation Serif',serif" fill="#6c6c6c">i</text><text transform="matrix(1.0090 0 0 1 590.7 806.8)" font-size="29.5" font-family="'Liberation Serif',serif" fill="#6c6c6c">m</text><text transform="matrix(1.1635 0 0 1 614.7 806.8)" font-size="29.5" font-family="'Liberation Serif',serif" fill="#6c6c6c" fill-opacity="0.99">e</text><text transform="matrix(0.8009 0 0 1 645.4 806.5)" font-size="32.8" font-family="'Liberation Serif',serif" fill="#6c6c6c">(</text><text transform="matrix(0.8944 0 0 1 655.2 806.8)" font-size="29.5" font-family="'Liberation Serif',serif" fill="#6c6c6c">M</text><text transform="matrix(1.0047 0 0 1 678.6 806.8)" font-size="29.5" font-family="'Liberation Serif',serif" fill="#6c6c6c">y</text><text transform="matrix(1.3004 0 0 1 693.5 806.8)" font-size="29.5" font-family="'Liberation Serif',serif" fill="#6c6c6c" fill-opacity="0.88">r</text><text transform="matrix(0.7695 0 0 1 708.5 806.5)" font-size="32.8" font-family="'Liberation Serif',serif" fill="#6c6c6c">)</text><g transform="translate(26.6,0) rotate(-90)"><text transform="matrix(0.7392 0 0 1 -460.8 0)" font-size="29.5" font-family="'Liberation Serif',serif" fill="#6c6c6c">M</text><text transform="matrix(1.0127 0 0 1 -439.4 0)" font-size="29.5" font-family="'Liberation Serif',serif" fill="#6c6c6c">a</text><text transform="matrix(1.0739 0 0 1 -425.2 0)" font-size="29.5" font-family="'Liberation Serif',serif" fill="#6c6c6c">s</text><text transform="matrix(1.1173 0 0 1 -412.6 0)" font-size="29.5" font-family="'Liberation Serif',serif" fill="#6c6c6c">s</text><text transform="matrix(0.9205 0 0 1 -380.1 -1)" font-size="32.8" font-family="'Liberation Serif',serif" fill="#6c6c6c">(</text><text transform="matrix(0.7596 0 0 1 -370.4 0)" font-size="29.5" font-family="'Liberation Serif',serif" fill="#6c6c6c">M</text><text transform="matrix(0.9707 0 0 1 -337.3 -1)" font-size="32.8" font-family="'Liberation Serif',serif" fill="#6c6c6c">)</text></g><circle cx="28" cy="343.2" r="4.9" fill="none" stroke="#555" stroke-width="0.9"/><circle cx="28" cy="343.2" r="1.1" fill="#555"/><g transform="translate(428.2,0) rotate(-90)"><text transform="matrix(0.7188 0 0 1 -569.6 0)" font-size="29.5" font-family="'Liberation Serif',serif" fill="#6c6c6c">M</text><text transform="matrix(0.9869 0 0 1 -549 0)" font-size="29.5" font-family="'Liberation Serif',serif" fill="#6c6c6c">a</text><text transform="matrix(1.0739 0 0 1 -535.1 0)" font-size="29.5" font-family="'Liberation Serif',serif" fill="#6c6c6c">s</text><text transform="matrix(1.0956 0 0 1 -522.3 0)" font-size="29.5" font-family="'Liberation Serif',serif" fill="#6c6c6c">s</text><text transform="matrix(0.9648 0 0 1 -491.6 0)" font-size="29.5" font-family="'Liberation Serif',serif" fill="#6c6c6c">L</text><text transform="matrix(0.9172 0 0 1 -474.6 0)" font-size="29.5" font-family="'Liberation Serif',serif" fill="#6c6c6c">o</text><text transform="matrix(1.0847 0 0 1 -460.4 0)" font-size="29.5" font-family="'Liberation Serif',serif" fill="#6c6c6c">s</text><text transform="matrix(1.1173 0 0 1 -447.4 0)" font-size="29.5" font-family="'Liberation Serif',serif" fill="#6c6c6c">s</text><text transform="matrix(0.9769 0 0 1 -417.2 0)" font-size="29.5" font-family="'Liberation Serif',serif" fill="#6c6c6c">R</text><text transform="matrix(1.0384 0 0 1 -397.7 0)" font-size="29.5" font-family="'Liberation Serif',serif" fill="#6c6c6c">a</text><text transform="matrix(1.0977 0 0 1 -380.9 0)" font-size="29.5" font-family="'Liberation Serif',serif" fill="#6c6c6c">t</text><text transform="matrix(1.0536 0 0 1 -371.5 0)" font-size="29.5" font-family="'Liberation Serif',serif" fill="#6c6c6c">e</text><text transform="matrix(1.0998 0 0 1 -338.7 -1)" font-size="32.8" font-family="'Liberation Serif',serif" fill="#6c6c6c">(</text><text transform="matrix(0.7760 0 0 1 -326.3 0)" font-size="29.5" font-family="'Liberation Serif',serif" fill="#6c6c6c">M</text><text transform="matrix(0.7760 0 0 1 -278.2 0)" font-size="29.5" font-family="'Liberation Serif',serif" fill="#6c6c6c">M</text><text transform="matrix(0.8009 0 0 1 -257.2 0)" font-size="29.5" font-family="'Liberation Serif',serif" fill="#6c6c6c">y</text><text transform="matrix(1.1003 0 0 1 -244.5 0)" font-size="29.5" font-family="'Liberation Serif',serif" fill="#6c6c6c">r</text><text transform="matrix(1.1719 0 0 1 -230.7 -1)" font-size="32.8" font-family="'Liberation Serif',serif" fill="#6c6c6c" fill-opacity="0.98">)</text></g><circle cx="431.2" cy="302.3" r="4.9" fill="none" stroke="#555" stroke-width="0.9"/><circle cx="431.2" cy="302.3" r="1.1" fill="#555"/><line x1="432.6" y1="298" x2="404.4" y2="278.9" stroke="#666" stroke-width="1.1" stroke-opacity="1.0"/></g>
</svg>
</body></html>
